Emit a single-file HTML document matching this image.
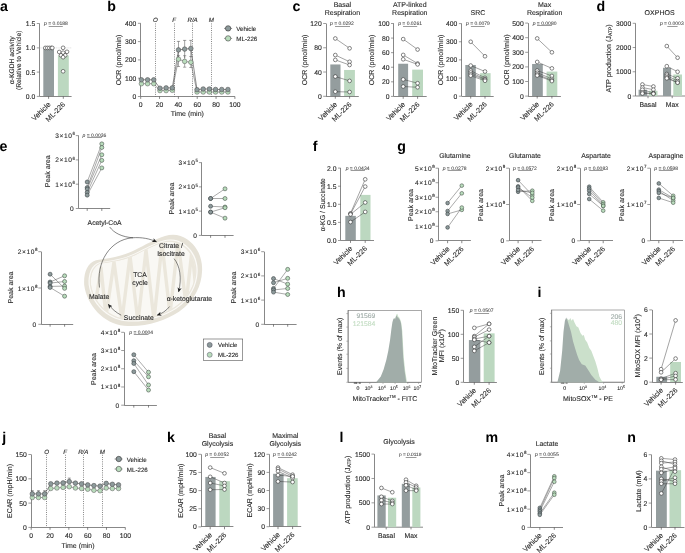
<!DOCTYPE html>
<html><head><meta charset="utf-8"><style>
html,body{margin:0;padding:0;background:#fff;}
svg{display:block;font-family:"Liberation Sans",sans-serif;will-change:transform;text-rendering:geometricPrecision;}
</style></head><body>
<svg width="685" height="553" viewBox="0 0 685 553">
<text x="0" y="11" font-size="14.2" text-anchor="start" fill="#000" font-weight="bold" >a</text>
<line x1="39.5" y1="23.5" x2="39.5" y2="96.4" stroke="#7a7a7a" stroke-width="0.9" />
<line x1="36.8" y1="23.5" x2="39.6" y2="23.5" stroke="#666" stroke-width="0.65" />
<text x="35.3" y="26.08" font-size="6.8" text-anchor="end" fill="#2a2a2a" stroke="#2a2a2a" stroke-width="0.12" >1.5</text>
<line x1="36.8" y1="47.9" x2="39.6" y2="47.9" stroke="#666" stroke-width="0.65" />
<text x="35.3" y="50.48" font-size="6.8" text-anchor="end" fill="#2a2a2a" stroke="#2a2a2a" stroke-width="0.12" >1.0</text>
<line x1="36.8" y1="72.1" x2="39.6" y2="72.1" stroke="#666" stroke-width="0.65" />
<text x="35.3" y="74.68" font-size="6.8" text-anchor="end" fill="#2a2a2a" stroke="#2a2a2a" stroke-width="0.12" >0.5</text>
<line x1="36.8" y1="96.4" x2="39.6" y2="96.4" stroke="#666" stroke-width="0.65" />
<text x="35.3" y="98.98" font-size="6.8" text-anchor="end" fill="#2a2a2a" stroke="#2a2a2a" stroke-width="0.12" >0.0</text>
<rect x="43.3" y="47.9" width="10.7" height="48.5" fill="#949d9e"/>
<rect x="57.9" y="55.5" width="10.9" height="40.9" fill="#bcd8c0"/>
<line x1="39.6" y1="47.9" x2="71.6" y2="47.9" stroke="#c8c8c8" stroke-width="0.6" stroke-dasharray="1,0.8"/>
<line x1="39.6" y1="96.5" x2="71.6" y2="96.5" stroke="#7a7a7a" stroke-width="0.9" />
<line x1="48.6" y1="96.4" x2="48.6" y2="98.8" stroke="#555" stroke-width="0.7" />
<line x1="63.3" y1="96.4" x2="63.3" y2="98.8" stroke="#555" stroke-width="0.7" />
<circle cx="45.3" cy="47.9" r="1.85" fill="#fff" stroke="#222" stroke-width="0.55"/>
<circle cx="47.3" cy="47.9" r="1.85" fill="#fff" stroke="#222" stroke-width="0.55"/>
<circle cx="49.3" cy="47.9" r="1.85" fill="#fff" stroke="#222" stroke-width="0.55"/>
<circle cx="51.3" cy="47.9" r="1.85" fill="#fff" stroke="#222" stroke-width="0.55"/>
<circle cx="52.3" cy="47.9" r="1.85" fill="#fff" stroke="#222" stroke-width="0.55"/>
<circle cx="63.1" cy="47.8" r="1.85" fill="#fff" stroke="#222" stroke-width="0.55"/>
<circle cx="59.2" cy="52" r="1.85" fill="#fff" stroke="#222" stroke-width="0.55"/>
<circle cx="67" cy="51.8" r="1.85" fill="#fff" stroke="#222" stroke-width="0.55"/>
<circle cx="63.1" cy="52.7" r="1.85" fill="#fff" stroke="#222" stroke-width="0.55"/>
<circle cx="61" cy="55.3" r="1.85" fill="#fff" stroke="#222" stroke-width="0.55"/>
<circle cx="65.2" cy="55.3" r="1.85" fill="#fff" stroke="#222" stroke-width="0.55"/>
<circle cx="63.1" cy="57.2" r="1.85" fill="#fff" stroke="#222" stroke-width="0.55"/>
<circle cx="63.1" cy="71.3" r="1.85" fill="#fff" stroke="#222" stroke-width="0.55"/>
<text x="44" y="25.15" font-size="5.0" fill="#3a3a3a" stroke="#3a3a3a" stroke-width="0.05"><tspan font-style="italic">p</tspan> = 0.0188</text>
<line x1="48.7" y1="26.5" x2="62.8" y2="26.5" stroke="#555" stroke-width="0.6" />
<text x="14" y="60.2" font-size="6.7" text-anchor="middle" fill="#2a2a2a" stroke="#2a2a2a" stroke-width="0.12" transform="rotate(-90 14 60.2)" >α-KGDH activity</text>
<text x="21.5" y="60.2" font-size="6.7" text-anchor="middle" fill="#2a2a2a" stroke="#2a2a2a" stroke-width="0.12" transform="rotate(-90 21.5 60.2)" >(Relative to Vehicle)</text>
<text x="51" y="104.9" font-size="7.2" text-anchor="end" fill="#2a2a2a" stroke="#2a2a2a" stroke-width="0.12" transform="rotate(-45 51 104.9)" >Vehicle</text>
<text x="65.7" y="104.9" font-size="7.2" text-anchor="end" fill="#2a2a2a" stroke="#2a2a2a" stroke-width="0.12" transform="rotate(-45 65.7 104.9)" >ML-226</text>
<text x="107.2" y="11" font-size="14.2" text-anchor="start" fill="#000" font-weight="bold" >b</text>
<line x1="140.5" y1="23.3" x2="140.5" y2="96.5" stroke="#7a7a7a" stroke-width="0.9" />
<line x1="137.9" y1="96.5" x2="140.7" y2="96.5" stroke="#666" stroke-width="0.65" />
<text x="136.4" y="99.08" font-size="6.8" text-anchor="end" fill="#2a2a2a" stroke="#2a2a2a" stroke-width="0.12" >0</text>
<line x1="137.9" y1="78.2" x2="140.7" y2="78.2" stroke="#666" stroke-width="0.65" />
<text x="136.4" y="80.78" font-size="6.8" text-anchor="end" fill="#2a2a2a" stroke="#2a2a2a" stroke-width="0.12" >100</text>
<line x1="137.9" y1="59.9" x2="140.7" y2="59.9" stroke="#666" stroke-width="0.65" />
<text x="136.4" y="62.48" font-size="6.8" text-anchor="end" fill="#2a2a2a" stroke="#2a2a2a" stroke-width="0.12" >200</text>
<line x1="137.9" y1="41.6" x2="140.7" y2="41.6" stroke="#666" stroke-width="0.65" />
<text x="136.4" y="44.18" font-size="6.8" text-anchor="end" fill="#2a2a2a" stroke="#2a2a2a" stroke-width="0.12" >300</text>
<line x1="137.9" y1="23.3" x2="140.7" y2="23.3" stroke="#666" stroke-width="0.65" />
<text x="136.4" y="25.88" font-size="6.8" text-anchor="end" fill="#2a2a2a" stroke="#2a2a2a" stroke-width="0.12" >400</text>
<line x1="140.7" y1="96.5" x2="234.9" y2="96.5" stroke="#7a7a7a" stroke-width="0.9" />
<line x1="140.7" y1="96.5" x2="140.7" y2="98.9" stroke="#555" stroke-width="0.7" />
<line x1="159.54" y1="96.5" x2="159.54" y2="98.9" stroke="#555" stroke-width="0.7" />
<line x1="178.38" y1="96.5" x2="178.38" y2="98.9" stroke="#555" stroke-width="0.7" />
<line x1="197.22" y1="96.5" x2="197.22" y2="98.9" stroke="#555" stroke-width="0.7" />
<line x1="216.06" y1="96.5" x2="216.06" y2="98.9" stroke="#555" stroke-width="0.7" />
<line x1="234.9" y1="96.5" x2="234.9" y2="98.9" stroke="#555" stroke-width="0.7" />
<text x="140.7" y="106.6" font-size="6.8" text-anchor="middle" fill="#2a2a2a" stroke="#2a2a2a" stroke-width="0.12" >0</text>
<text x="159.54" y="106.6" font-size="6.8" text-anchor="middle" fill="#2a2a2a" stroke="#2a2a2a" stroke-width="0.12" >20</text>
<text x="178.38" y="106.6" font-size="6.8" text-anchor="middle" fill="#2a2a2a" stroke="#2a2a2a" stroke-width="0.12" >40</text>
<text x="197.22" y="106.6" font-size="6.8" text-anchor="middle" fill="#2a2a2a" stroke="#2a2a2a" stroke-width="0.12" >60</text>
<text x="216.06" y="106.6" font-size="6.8" text-anchor="middle" fill="#2a2a2a" stroke="#2a2a2a" stroke-width="0.12" >80</text>
<text x="234.9" y="106.6" font-size="6.8" text-anchor="middle" fill="#2a2a2a" stroke="#2a2a2a" stroke-width="0.12" >100</text>
<text x="187.3" y="116.4" font-size="7.0" text-anchor="middle" fill="#2a2a2a" stroke="#2a2a2a" stroke-width="0.12" >Time (min)</text>
<text x="121.2" y="60" font-size="7.0" text-anchor="middle" fill="#2a2a2a" stroke="#2a2a2a" stroke-width="0.12" transform="rotate(-90 121.2 60)" >OCR (pmol/min)</text>
<line x1="155.5" y1="23.5" x2="155.5" y2="96.5" stroke="#444" stroke-width="0.7" stroke-dasharray="0.9,1.3"/>
<text x="155.3" y="22.2" font-size="6.2" text-anchor="middle" fill="#2a2a2a" stroke="#2a2a2a" stroke-width="0.12" font-style="italic" >O</text>
<line x1="174.5" y1="23.5" x2="174.5" y2="96.5" stroke="#444" stroke-width="0.7" stroke-dasharray="0.9,1.3"/>
<text x="174.1" y="22.2" font-size="6.2" text-anchor="middle" fill="#2a2a2a" stroke="#2a2a2a" stroke-width="0.12" font-style="italic" >F</text>
<line x1="192.5" y1="23.5" x2="192.5" y2="96.5" stroke="#444" stroke-width="0.7" stroke-dasharray="0.9,1.3"/>
<text x="192.6" y="22.2" font-size="6.2" text-anchor="middle" fill="#2a2a2a" stroke="#2a2a2a" stroke-width="0.12" font-style="italic" >R/A</text>
<line x1="211.5" y1="23.5" x2="211.5" y2="96.5" stroke="#444" stroke-width="0.7" stroke-dasharray="0.9,1.3"/>
<text x="211.3" y="22.2" font-size="6.2" text-anchor="middle" fill="#2a2a2a" stroke="#2a2a2a" stroke-width="0.12" font-style="italic" >M</text>
<line x1="178.48" y1="41.4" x2="178.48" y2="58.5" stroke="#444" stroke-width="0.5" />
<line x1="176.88" y1="41.4" x2="180.08" y2="41.4" stroke="#444" stroke-width="0.5" />
<line x1="184.66" y1="40.4" x2="184.66" y2="58" stroke="#444" stroke-width="0.5" />
<line x1="183.06" y1="40.4" x2="186.26" y2="40.4" stroke="#444" stroke-width="0.5" />
<line x1="190.84" y1="40.4" x2="190.84" y2="57.5" stroke="#444" stroke-width="0.5" />
<line x1="189.24" y1="40.4" x2="192.44" y2="40.4" stroke="#444" stroke-width="0.5" />
<line x1="178.48" y1="55.7" x2="178.48" y2="66.5" stroke="#555" stroke-width="0.5" />
<line x1="176.88" y1="66.5" x2="180.08" y2="66.5" stroke="#555" stroke-width="0.5" />
<line x1="176.88" y1="55.7" x2="180.08" y2="55.7" stroke="#555" stroke-width="0.5" />
<line x1="184.66" y1="55.7" x2="184.66" y2="67.2" stroke="#555" stroke-width="0.5" />
<line x1="183.06" y1="67.2" x2="186.26" y2="67.2" stroke="#555" stroke-width="0.5" />
<line x1="183.06" y1="55.7" x2="186.26" y2="55.7" stroke="#555" stroke-width="0.5" />
<line x1="190.84" y1="56.5" x2="190.84" y2="67.5" stroke="#555" stroke-width="0.5" />
<line x1="189.24" y1="67.5" x2="192.44" y2="67.5" stroke="#555" stroke-width="0.5" />
<line x1="189.24" y1="56.5" x2="192.44" y2="56.5" stroke="#555" stroke-width="0.5" />
<polyline points="141.4,83.7 147.58,83.7 153.76,83.7 159.94,90.6 166.12,90.6 172.3,90.3 178.48,59.2 184.66,61.4 190.84,62.3 197.02,92 203.2,92 209.38,92 215.56,92 221.74,92 227.92,92" fill="none" stroke="#666" stroke-width="0.6"/>
<polyline points="141.4,79.8 147.58,79.8 153.76,79.8 159.94,88.2 166.12,87.9 172.3,87.9 178.48,49.9 184.66,49.1 190.84,48.5 197.02,89.7 203.2,89 209.38,89 215.56,89.5 221.74,89.5 227.92,89.5" fill="none" stroke="#444" stroke-width="0.6"/>
<circle cx="141.4" cy="83.7" r="2.3" fill="#b9dcbc" stroke="#555" stroke-width="0.5"/>
<circle cx="147.58" cy="83.7" r="2.3" fill="#b9dcbc" stroke="#555" stroke-width="0.5"/>
<circle cx="153.76" cy="83.7" r="2.3" fill="#b9dcbc" stroke="#555" stroke-width="0.5"/>
<circle cx="159.94" cy="90.6" r="2.3" fill="#b9dcbc" stroke="#555" stroke-width="0.5"/>
<circle cx="166.12" cy="90.6" r="2.3" fill="#b9dcbc" stroke="#555" stroke-width="0.5"/>
<circle cx="172.3" cy="90.3" r="2.3" fill="#b9dcbc" stroke="#555" stroke-width="0.5"/>
<circle cx="178.48" cy="59.2" r="2.3" fill="#b9dcbc" stroke="#555" stroke-width="0.5"/>
<circle cx="184.66" cy="61.4" r="2.3" fill="#b9dcbc" stroke="#555" stroke-width="0.5"/>
<circle cx="190.84" cy="62.3" r="2.3" fill="#b9dcbc" stroke="#555" stroke-width="0.5"/>
<circle cx="197.02" cy="92" r="2.3" fill="#b9dcbc" stroke="#555" stroke-width="0.5"/>
<circle cx="203.2" cy="92" r="2.3" fill="#b9dcbc" stroke="#555" stroke-width="0.5"/>
<circle cx="209.38" cy="92" r="2.3" fill="#b9dcbc" stroke="#555" stroke-width="0.5"/>
<circle cx="215.56" cy="92" r="2.3" fill="#b9dcbc" stroke="#555" stroke-width="0.5"/>
<circle cx="221.74" cy="92" r="2.3" fill="#b9dcbc" stroke="#555" stroke-width="0.5"/>
<circle cx="227.92" cy="92" r="2.3" fill="#b9dcbc" stroke="#555" stroke-width="0.5"/>
<circle cx="141.4" cy="79.8" r="2.3" fill="#8d9a9b" stroke="#444" stroke-width="0.5"/>
<circle cx="147.58" cy="79.8" r="2.3" fill="#8d9a9b" stroke="#444" stroke-width="0.5"/>
<circle cx="153.76" cy="79.8" r="2.3" fill="#8d9a9b" stroke="#444" stroke-width="0.5"/>
<circle cx="159.94" cy="88.2" r="2.3" fill="#8d9a9b" stroke="#444" stroke-width="0.5"/>
<circle cx="166.12" cy="87.9" r="2.3" fill="#8d9a9b" stroke="#444" stroke-width="0.5"/>
<circle cx="172.3" cy="87.9" r="2.3" fill="#8d9a9b" stroke="#444" stroke-width="0.5"/>
<circle cx="178.48" cy="49.9" r="2.3" fill="#8d9a9b" stroke="#444" stroke-width="0.5"/>
<circle cx="184.66" cy="49.1" r="2.3" fill="#8d9a9b" stroke="#444" stroke-width="0.5"/>
<circle cx="190.84" cy="48.5" r="2.3" fill="#8d9a9b" stroke="#444" stroke-width="0.5"/>
<circle cx="197.02" cy="89.7" r="2.3" fill="#8d9a9b" stroke="#444" stroke-width="0.5"/>
<circle cx="203.2" cy="89" r="2.3" fill="#8d9a9b" stroke="#444" stroke-width="0.5"/>
<circle cx="209.38" cy="89" r="2.3" fill="#8d9a9b" stroke="#444" stroke-width="0.5"/>
<circle cx="215.56" cy="89.5" r="2.3" fill="#8d9a9b" stroke="#444" stroke-width="0.5"/>
<circle cx="221.74" cy="89.5" r="2.3" fill="#8d9a9b" stroke="#444" stroke-width="0.5"/>
<circle cx="227.92" cy="89.5" r="2.3" fill="#8d9a9b" stroke="#444" stroke-width="0.5"/>
<line x1="224.1" y1="28.4" x2="232.1" y2="28.4" stroke="#444" stroke-width="0.6" />
<line x1="224.1" y1="38.4" x2="232.1" y2="38.4" stroke="#555" stroke-width="0.6" />
<circle cx="228.1" cy="28.4" r="2.7" fill="#8d9a9b" stroke="#333" stroke-width="0.6"/>
<circle cx="228.1" cy="38.4" r="2.7" fill="#b9dcbc" stroke="#444" stroke-width="0.6"/>
<text x="236.3" y="30.9" font-size="6.2" text-anchor="start" fill="#2a2a2a" stroke="#2a2a2a" stroke-width="0.12" >Vehicle</text>
<text x="236.3" y="40.9" font-size="6.2" text-anchor="start" fill="#2a2a2a" stroke="#2a2a2a" stroke-width="0.12" >ML-226</text>
<text x="292.4" y="11" font-size="14.2" text-anchor="start" fill="#000" font-weight="bold" >c</text>
<line x1="326.5" y1="23.5" x2="326.5" y2="96.3" stroke="#7a7a7a" stroke-width="0.9" />
<line x1="323.2" y1="96.3" x2="326" y2="96.3" stroke="#666" stroke-width="0.65" />
<text x="321.7" y="98.88" font-size="6.8" text-anchor="end" fill="#2a2a2a" stroke="#2a2a2a" stroke-width="0.12" >0</text>
<line x1="323.2" y1="72.03" x2="326" y2="72.03" stroke="#666" stroke-width="0.65" />
<text x="321.7" y="74.62" font-size="6.8" text-anchor="end" fill="#2a2a2a" stroke="#2a2a2a" stroke-width="0.12" >40</text>
<line x1="323.2" y1="47.77" x2="326" y2="47.77" stroke="#666" stroke-width="0.65" />
<text x="321.7" y="50.35" font-size="6.8" text-anchor="end" fill="#2a2a2a" stroke="#2a2a2a" stroke-width="0.12" >80</text>
<line x1="323.2" y1="23.5" x2="326" y2="23.5" stroke="#666" stroke-width="0.65" />
<text x="321.7" y="26.08" font-size="6.8" text-anchor="end" fill="#2a2a2a" stroke="#2a2a2a" stroke-width="0.12" >120</text>
<rect x="330.3" y="64.45" width="10.2" height="31.85" fill="#949d9e"/>
<rect x="344.1" y="69.97" width="10.8" height="26.33" fill="#bcd8c0"/>
<line x1="326" y1="96.5" x2="358.8" y2="96.5" stroke="#7a7a7a" stroke-width="0.9" />
<line x1="335.3" y1="96.3" x2="335.3" y2="98.7" stroke="#555" stroke-width="0.7" />
<line x1="349.6" y1="96.3" x2="349.6" y2="98.7" stroke="#555" stroke-width="0.7" />
<line x1="335.3" y1="38.48" x2="349.6" y2="48.31" stroke="#333" stroke-width="0.45" />
<line x1="335.3" y1="55.05" x2="349.6" y2="61.78" stroke="#333" stroke-width="0.45" />
<line x1="335.3" y1="59.9" x2="349.6" y2="65" stroke="#333" stroke-width="0.45" />
<line x1="335.3" y1="76.52" x2="349.6" y2="80.89" stroke="#333" stroke-width="0.45" />
<line x1="335.3" y1="91.69" x2="349.6" y2="91.99" stroke="#333" stroke-width="0.45" />
<circle cx="335.3" cy="38.48" r="1.85" fill="#fff" stroke="#222" stroke-width="0.55"/>
<circle cx="335.3" cy="55.05" r="1.85" fill="#fff" stroke="#222" stroke-width="0.55"/>
<circle cx="335.3" cy="59.9" r="1.85" fill="#fff" stroke="#222" stroke-width="0.55"/>
<circle cx="335.3" cy="76.52" r="1.85" fill="#fff" stroke="#222" stroke-width="0.55"/>
<circle cx="335.3" cy="91.69" r="1.85" fill="#fff" stroke="#222" stroke-width="0.55"/>
<circle cx="349.6" cy="48.31" r="1.85" fill="#fff" stroke="#222" stroke-width="0.55"/>
<circle cx="349.6" cy="61.78" r="1.85" fill="#fff" stroke="#222" stroke-width="0.55"/>
<circle cx="349.6" cy="65" r="1.85" fill="#fff" stroke="#222" stroke-width="0.55"/>
<circle cx="349.6" cy="80.89" r="1.85" fill="#fff" stroke="#222" stroke-width="0.55"/>
<circle cx="349.6" cy="91.99" r="1.85" fill="#fff" stroke="#222" stroke-width="0.55"/>
<text x="342.4" y="6.7" font-size="7.0" text-anchor="middle" fill="#2a2a2a" stroke="#2a2a2a" stroke-width="0.12" >Basal</text>
<text x="342.4" y="14.7" font-size="7.0" text-anchor="middle" fill="#2a2a2a" stroke="#2a2a2a" stroke-width="0.12" >Respiration</text>
<text x="307" y="59.9" font-size="7.0" text-anchor="middle" fill="#2a2a2a" stroke="#2a2a2a" stroke-width="0.12" transform="rotate(-90 307 59.9)" >OCR (pmol/min)</text>
<text x="330" y="25.25" font-size="5.0" fill="#3a3a3a" stroke="#3a3a3a" stroke-width="0.05"><tspan font-style="italic">p</tspan> = 0.0292</text>
<line x1="335" y1="26.5" x2="350" y2="26.5" stroke="#555" stroke-width="0.6" />
<text x="337.7" y="104.8" font-size="7.2" text-anchor="end" fill="#2a2a2a" stroke="#2a2a2a" stroke-width="0.12" transform="rotate(-45 337.7 104.8)" >Vehicle</text>
<text x="352" y="104.8" font-size="7.2" text-anchor="end" fill="#2a2a2a" stroke="#2a2a2a" stroke-width="0.12" transform="rotate(-45 352 104.8)" >ML-226</text>
<line x1="393.5" y1="23.5" x2="393.5" y2="96.4" stroke="#7a7a7a" stroke-width="0.9" />
<line x1="391" y1="96.4" x2="393.8" y2="96.4" stroke="#666" stroke-width="0.65" />
<text x="389.5" y="98.98" font-size="6.8" text-anchor="end" fill="#2a2a2a" stroke="#2a2a2a" stroke-width="0.12" >0</text>
<line x1="391" y1="81.82" x2="393.8" y2="81.82" stroke="#666" stroke-width="0.65" />
<text x="389.5" y="84.4" font-size="6.8" text-anchor="end" fill="#2a2a2a" stroke="#2a2a2a" stroke-width="0.12" >20</text>
<line x1="391" y1="67.24" x2="393.8" y2="67.24" stroke="#666" stroke-width="0.65" />
<text x="389.5" y="69.82" font-size="6.8" text-anchor="end" fill="#2a2a2a" stroke="#2a2a2a" stroke-width="0.12" >40</text>
<line x1="391" y1="52.66" x2="393.8" y2="52.66" stroke="#666" stroke-width="0.65" />
<text x="389.5" y="55.24" font-size="6.8" text-anchor="end" fill="#2a2a2a" stroke="#2a2a2a" stroke-width="0.12" >60</text>
<line x1="391" y1="38.08" x2="393.8" y2="38.08" stroke="#666" stroke-width="0.65" />
<text x="389.5" y="40.66" font-size="6.8" text-anchor="end" fill="#2a2a2a" stroke="#2a2a2a" stroke-width="0.12" >80</text>
<line x1="391" y1="23.5" x2="393.8" y2="23.5" stroke="#666" stroke-width="0.65" />
<text x="389.5" y="26.08" font-size="6.8" text-anchor="end" fill="#2a2a2a" stroke="#2a2a2a" stroke-width="0.12" >100</text>
<rect x="398.2" y="63.74" width="9.9" height="32.66" fill="#949d9e"/>
<rect x="412.2" y="69.65" width="10.8" height="26.75" fill="#bcd8c0"/>
<line x1="393.8" y1="96.5" x2="426.7" y2="96.5" stroke="#7a7a7a" stroke-width="0.9" />
<line x1="403.2" y1="96.4" x2="403.2" y2="98.8" stroke="#555" stroke-width="0.7" />
<line x1="417.6" y1="96.4" x2="417.6" y2="98.8" stroke="#555" stroke-width="0.7" />
<line x1="403.2" y1="39.1" x2="417.6" y2="49.53" stroke="#333" stroke-width="0.45" />
<line x1="403.2" y1="54.92" x2="417.6" y2="63.52" stroke="#333" stroke-width="0.45" />
<line x1="403.2" y1="59.29" x2="417.6" y2="64.4" stroke="#333" stroke-width="0.45" />
<line x1="403.2" y1="79.41" x2="417.6" y2="83.21" stroke="#333" stroke-width="0.45" />
<line x1="403.2" y1="86.49" x2="417.6" y2="87.29" stroke="#333" stroke-width="0.45" />
<circle cx="403.2" cy="39.1" r="1.85" fill="#fff" stroke="#222" stroke-width="0.55"/>
<circle cx="403.2" cy="54.92" r="1.85" fill="#fff" stroke="#222" stroke-width="0.55"/>
<circle cx="403.2" cy="59.29" r="1.85" fill="#fff" stroke="#222" stroke-width="0.55"/>
<circle cx="403.2" cy="79.41" r="1.85" fill="#fff" stroke="#222" stroke-width="0.55"/>
<circle cx="403.2" cy="86.49" r="1.85" fill="#fff" stroke="#222" stroke-width="0.55"/>
<circle cx="417.6" cy="49.53" r="1.85" fill="#fff" stroke="#222" stroke-width="0.55"/>
<circle cx="417.6" cy="63.52" r="1.85" fill="#fff" stroke="#222" stroke-width="0.55"/>
<circle cx="417.6" cy="64.4" r="1.85" fill="#fff" stroke="#222" stroke-width="0.55"/>
<circle cx="417.6" cy="83.21" r="1.85" fill="#fff" stroke="#222" stroke-width="0.55"/>
<circle cx="417.6" cy="87.29" r="1.85" fill="#fff" stroke="#222" stroke-width="0.55"/>
<text x="409.8" y="6.7" font-size="7.0" text-anchor="middle" fill="#2a2a2a" stroke="#2a2a2a" stroke-width="0.12" >ATP-linked</text>
<text x="409.8" y="14.7" font-size="7.0" text-anchor="middle" fill="#2a2a2a" stroke="#2a2a2a" stroke-width="0.12" >Respiration</text>
<text x="374.5" y="59.95" font-size="7.0" text-anchor="middle" fill="#2a2a2a" stroke="#2a2a2a" stroke-width="0.12" transform="rotate(-90 374.5 59.95)" >OCR (pmol/min)</text>
<text x="398.2" y="25.25" font-size="5.0" fill="#3a3a3a" stroke="#3a3a3a" stroke-width="0.05"><tspan font-style="italic">p</tspan> = 0.0261</text>
<line x1="403" y1="26.5" x2="417.2" y2="26.5" stroke="#555" stroke-width="0.6" />
<text x="405.6" y="104.9" font-size="7.2" text-anchor="end" fill="#2a2a2a" stroke="#2a2a2a" stroke-width="0.12" transform="rotate(-45 405.6 104.9)" >Vehicle</text>
<text x="420" y="104.9" font-size="7.2" text-anchor="end" fill="#2a2a2a" stroke="#2a2a2a" stroke-width="0.12" transform="rotate(-45 420 104.9)" >ML-226</text>
<line x1="461.5" y1="23.6" x2="461.5" y2="96.2" stroke="#7a7a7a" stroke-width="0.9" />
<line x1="458.9" y1="96.2" x2="461.7" y2="96.2" stroke="#666" stroke-width="0.65" />
<text x="457.4" y="98.78" font-size="6.8" text-anchor="end" fill="#2a2a2a" stroke="#2a2a2a" stroke-width="0.12" >0</text>
<line x1="458.9" y1="78.05" x2="461.7" y2="78.05" stroke="#666" stroke-width="0.65" />
<text x="457.4" y="80.63" font-size="6.8" text-anchor="end" fill="#2a2a2a" stroke="#2a2a2a" stroke-width="0.12" >100</text>
<line x1="458.9" y1="59.9" x2="461.7" y2="59.9" stroke="#666" stroke-width="0.65" />
<text x="457.4" y="62.48" font-size="6.8" text-anchor="end" fill="#2a2a2a" stroke="#2a2a2a" stroke-width="0.12" >200</text>
<line x1="458.9" y1="41.75" x2="461.7" y2="41.75" stroke="#666" stroke-width="0.65" />
<text x="457.4" y="44.33" font-size="6.8" text-anchor="end" fill="#2a2a2a" stroke="#2a2a2a" stroke-width="0.12" >300</text>
<line x1="458.9" y1="23.6" x2="461.7" y2="23.6" stroke="#666" stroke-width="0.65" />
<text x="457.4" y="26.18" font-size="6.8" text-anchor="end" fill="#2a2a2a" stroke="#2a2a2a" stroke-width="0.12" >400</text>
<rect x="465.3" y="64.98" width="10.5" height="31.22" fill="#949d9e"/>
<rect x="480.1" y="73.15" width="10.5" height="23.05" fill="#bcd8c0"/>
<line x1="461.7" y1="96.5" x2="493.7" y2="96.5" stroke="#7a7a7a" stroke-width="0.9" />
<line x1="470.7" y1="96.2" x2="470.7" y2="98.6" stroke="#555" stroke-width="0.7" />
<line x1="485" y1="96.2" x2="485" y2="98.6" stroke="#555" stroke-width="0.7" />
<line x1="470.7" y1="41.75" x2="485" y2="56.27" stroke="#333" stroke-width="0.45" />
<line x1="470.7" y1="65.53" x2="485" y2="71.52" stroke="#333" stroke-width="0.45" />
<line x1="470.7" y1="70.61" x2="485" y2="77.87" stroke="#333" stroke-width="0.45" />
<line x1="470.7" y1="72.42" x2="485" y2="79.14" stroke="#333" stroke-width="0.45" />
<line x1="470.7" y1="74.24" x2="485" y2="79.68" stroke="#333" stroke-width="0.45" />
<line x1="470.7" y1="75.69" x2="485" y2="80.77" stroke="#333" stroke-width="0.45" />
<circle cx="470.7" cy="41.75" r="1.85" fill="#fff" stroke="#222" stroke-width="0.55"/>
<circle cx="470.7" cy="65.53" r="1.85" fill="#fff" stroke="#222" stroke-width="0.55"/>
<circle cx="470.7" cy="70.61" r="1.85" fill="#fff" stroke="#222" stroke-width="0.55"/>
<circle cx="470.7" cy="72.42" r="1.85" fill="#fff" stroke="#222" stroke-width="0.55"/>
<circle cx="470.7" cy="74.24" r="1.85" fill="#fff" stroke="#222" stroke-width="0.55"/>
<circle cx="470.7" cy="75.69" r="1.85" fill="#fff" stroke="#222" stroke-width="0.55"/>
<circle cx="485" cy="56.27" r="1.85" fill="#fff" stroke="#222" stroke-width="0.55"/>
<circle cx="485" cy="71.52" r="1.85" fill="#fff" stroke="#222" stroke-width="0.55"/>
<circle cx="485" cy="77.87" r="1.85" fill="#fff" stroke="#222" stroke-width="0.55"/>
<circle cx="485" cy="79.14" r="1.85" fill="#fff" stroke="#222" stroke-width="0.55"/>
<circle cx="485" cy="79.68" r="1.85" fill="#fff" stroke="#222" stroke-width="0.55"/>
<circle cx="485" cy="80.77" r="1.85" fill="#fff" stroke="#222" stroke-width="0.55"/>
<text x="478" y="14.7" font-size="7.0" text-anchor="middle" fill="#2a2a2a" stroke="#2a2a2a" stroke-width="0.12" >SRC</text>
<text x="443.5" y="59.9" font-size="7.0" text-anchor="middle" fill="#2a2a2a" stroke="#2a2a2a" stroke-width="0.12" transform="rotate(-90 443.5 59.9)" >OCR (pmol/min)</text>
<text x="466" y="25.35" font-size="5.0" fill="#3a3a3a" stroke="#3a3a3a" stroke-width="0.05"><tspan font-style="italic">p</tspan> = 0.0079</text>
<line x1="470.9" y1="26.5" x2="484.7" y2="26.5" stroke="#555" stroke-width="0.6" />
<text x="473.1" y="104.7" font-size="7.2" text-anchor="end" fill="#2a2a2a" stroke="#2a2a2a" stroke-width="0.12" transform="rotate(-45 473.1 104.7)" >Vehicle</text>
<text x="487.4" y="104.7" font-size="7.2" text-anchor="end" fill="#2a2a2a" stroke="#2a2a2a" stroke-width="0.12" transform="rotate(-45 487.4 104.7)" >ML-226</text>
<line x1="528.5" y1="23.1" x2="528.5" y2="96.1" stroke="#7a7a7a" stroke-width="0.9" />
<line x1="525.2" y1="96.1" x2="528" y2="96.1" stroke="#666" stroke-width="0.65" />
<text x="523.7" y="98.68" font-size="6.8" text-anchor="end" fill="#2a2a2a" stroke="#2a2a2a" stroke-width="0.12" >0</text>
<line x1="525.2" y1="81.5" x2="528" y2="81.5" stroke="#666" stroke-width="0.65" />
<text x="523.7" y="84.08" font-size="6.8" text-anchor="end" fill="#2a2a2a" stroke="#2a2a2a" stroke-width="0.12" >100</text>
<line x1="525.2" y1="66.9" x2="528" y2="66.9" stroke="#666" stroke-width="0.65" />
<text x="523.7" y="69.48" font-size="6.8" text-anchor="end" fill="#2a2a2a" stroke="#2a2a2a" stroke-width="0.12" >200</text>
<line x1="525.2" y1="52.3" x2="528" y2="52.3" stroke="#666" stroke-width="0.65" />
<text x="523.7" y="54.88" font-size="6.8" text-anchor="end" fill="#2a2a2a" stroke="#2a2a2a" stroke-width="0.12" >300</text>
<line x1="525.2" y1="37.7" x2="528" y2="37.7" stroke="#666" stroke-width="0.65" />
<text x="523.7" y="40.28" font-size="6.8" text-anchor="end" fill="#2a2a2a" stroke="#2a2a2a" stroke-width="0.12" >400</text>
<line x1="525.2" y1="23.1" x2="528" y2="23.1" stroke="#666" stroke-width="0.65" />
<text x="523.7" y="25.68" font-size="6.8" text-anchor="end" fill="#2a2a2a" stroke="#2a2a2a" stroke-width="0.12" >500</text>
<rect x="532.1" y="63.98" width="10.7" height="32.12" fill="#949d9e"/>
<rect x="546.6" y="71.57" width="10.7" height="24.53" fill="#bcd8c0"/>
<line x1="528" y1="96.5" x2="560.9" y2="96.5" stroke="#7a7a7a" stroke-width="0.9" />
<line x1="537.2" y1="96.1" x2="537.2" y2="98.5" stroke="#555" stroke-width="0.7" />
<line x1="551.9" y1="96.1" x2="551.9" y2="98.5" stroke="#555" stroke-width="0.7" />
<line x1="537.2" y1="38.43" x2="551.9" y2="52.3" stroke="#333" stroke-width="0.45" />
<line x1="537.2" y1="61.94" x2="551.9" y2="68.36" stroke="#333" stroke-width="0.45" />
<line x1="537.2" y1="70.55" x2="551.9" y2="75.95" stroke="#333" stroke-width="0.45" />
<line x1="537.2" y1="72.74" x2="551.9" y2="78.87" stroke="#333" stroke-width="0.45" />
<line x1="537.2" y1="74.35" x2="551.9" y2="80.33" stroke="#333" stroke-width="0.45" />
<line x1="537.2" y1="75.51" x2="551.9" y2="81.06" stroke="#333" stroke-width="0.45" />
<circle cx="537.2" cy="38.43" r="1.85" fill="#fff" stroke="#222" stroke-width="0.55"/>
<circle cx="537.2" cy="61.94" r="1.85" fill="#fff" stroke="#222" stroke-width="0.55"/>
<circle cx="537.2" cy="70.55" r="1.85" fill="#fff" stroke="#222" stroke-width="0.55"/>
<circle cx="537.2" cy="72.74" r="1.85" fill="#fff" stroke="#222" stroke-width="0.55"/>
<circle cx="537.2" cy="74.35" r="1.85" fill="#fff" stroke="#222" stroke-width="0.55"/>
<circle cx="537.2" cy="75.51" r="1.85" fill="#fff" stroke="#222" stroke-width="0.55"/>
<circle cx="551.9" cy="52.3" r="1.85" fill="#fff" stroke="#222" stroke-width="0.55"/>
<circle cx="551.9" cy="68.36" r="1.85" fill="#fff" stroke="#222" stroke-width="0.55"/>
<circle cx="551.9" cy="75.95" r="1.85" fill="#fff" stroke="#222" stroke-width="0.55"/>
<circle cx="551.9" cy="78.87" r="1.85" fill="#fff" stroke="#222" stroke-width="0.55"/>
<circle cx="551.9" cy="80.33" r="1.85" fill="#fff" stroke="#222" stroke-width="0.55"/>
<circle cx="551.9" cy="81.06" r="1.85" fill="#fff" stroke="#222" stroke-width="0.55"/>
<text x="544.6" y="6.7" font-size="7.0" text-anchor="middle" fill="#2a2a2a" stroke="#2a2a2a" stroke-width="0.12" >Max</text>
<text x="544.6" y="14.7" font-size="7.0" text-anchor="middle" fill="#2a2a2a" stroke="#2a2a2a" stroke-width="0.12" >Respiration</text>
<text x="509" y="59.6" font-size="7.0" text-anchor="middle" fill="#2a2a2a" stroke="#2a2a2a" stroke-width="0.12" transform="rotate(-90 509 59.6)" >OCR (pmol/min)</text>
<text x="532.7" y="24.85" font-size="5.0" fill="#3a3a3a" stroke="#3a3a3a" stroke-width="0.05"><tspan font-style="italic">p</tspan> = 0.0080</text>
<line x1="537" y1="25.5" x2="551.9" y2="25.5" stroke="#555" stroke-width="0.6" />
<text x="539.6" y="104.6" font-size="7.2" text-anchor="end" fill="#2a2a2a" stroke="#2a2a2a" stroke-width="0.12" transform="rotate(-45 539.6 104.6)" >Vehicle</text>
<text x="554.3" y="104.6" font-size="7.2" text-anchor="end" fill="#2a2a2a" stroke="#2a2a2a" stroke-width="0.12" transform="rotate(-45 554.3 104.6)" >ML-226</text>
<text x="596.5" y="11" font-size="14.2" text-anchor="start" fill="#000" font-weight="bold" >d</text>
<line x1="635.5" y1="23.3" x2="635.5" y2="96" stroke="#7a7a7a" stroke-width="0.9" />
<line x1="632.7" y1="96" x2="635.5" y2="96" stroke="#666" stroke-width="0.65" />
<text x="631.2" y="98.58" font-size="6.8" text-anchor="end" fill="#2a2a2a" stroke="#2a2a2a" stroke-width="0.12" >0</text>
<line x1="632.7" y1="71.77" x2="635.5" y2="71.77" stroke="#666" stroke-width="0.65" />
<text x="631.2" y="74.35" font-size="6.8" text-anchor="end" fill="#2a2a2a" stroke="#2a2a2a" stroke-width="0.12" >1000</text>
<line x1="632.7" y1="47.53" x2="635.5" y2="47.53" stroke="#666" stroke-width="0.65" />
<text x="631.2" y="50.12" font-size="6.8" text-anchor="end" fill="#2a2a2a" stroke="#2a2a2a" stroke-width="0.12" >2000</text>
<line x1="632.7" y1="23.3" x2="635.5" y2="23.3" stroke="#666" stroke-width="0.65" />
<text x="631.2" y="25.88" font-size="6.8" text-anchor="end" fill="#2a2a2a" stroke="#2a2a2a" stroke-width="0.12" >3000</text>
<line x1="635.5" y1="96" x2="685" y2="96" stroke="#7a7a7a" stroke-width="0.9" />
<line x1="648" y1="96" x2="648" y2="98.2" stroke="#7a7a7a" stroke-width="0.9" />
<line x1="672.2" y1="96" x2="672.2" y2="98.2" stroke="#7a7a7a" stroke-width="0.9" />
<rect x="638.6" y="89.7" width="8.6" height="6.3" fill="#949d9e"/>
<rect x="648.9" y="90.79" width="8.6" height="5.21" fill="#bcd8c0"/>
<rect x="663" y="67.79" width="8.1" height="28.21" fill="#949d9e"/>
<rect x="673.3" y="74.48" width="8.7" height="21.52" fill="#bcd8c0"/>
<line x1="642.4" y1="84.49" x2="653.4" y2="86.5" stroke="#333" stroke-width="0.45" />
<line x1="642.4" y1="87.52" x2="653.4" y2="89.7" stroke="#333" stroke-width="0.45" />
<line x1="642.4" y1="89.7" x2="653.4" y2="93" stroke="#333" stroke-width="0.45" />
<line x1="642.4" y1="92.36" x2="653.4" y2="93.79" stroke="#333" stroke-width="0.45" />
<line x1="642.4" y1="93.5" x2="653.4" y2="93.79" stroke="#333" stroke-width="0.45" />
<circle cx="642.4" cy="84.49" r="1.85" fill="#fff" stroke="#222" stroke-width="0.55"/>
<circle cx="642.4" cy="87.52" r="1.85" fill="#fff" stroke="#222" stroke-width="0.55"/>
<circle cx="642.4" cy="89.7" r="1.85" fill="#fff" stroke="#222" stroke-width="0.55"/>
<circle cx="642.4" cy="92.36" r="1.85" fill="#fff" stroke="#222" stroke-width="0.55"/>
<circle cx="642.4" cy="93.5" r="1.85" fill="#fff" stroke="#222" stroke-width="0.55"/>
<circle cx="653.4" cy="86.5" r="1.85" fill="#fff" stroke="#222" stroke-width="0.55"/>
<circle cx="653.4" cy="89.7" r="1.85" fill="#fff" stroke="#222" stroke-width="0.55"/>
<circle cx="653.4" cy="93" r="1.85" fill="#fff" stroke="#222" stroke-width="0.55"/>
<circle cx="653.4" cy="93.79" r="1.85" fill="#fff" stroke="#222" stroke-width="0.55"/>
<circle cx="653.4" cy="93.79" r="1.85" fill="#fff" stroke="#222" stroke-width="0.55"/>
<line x1="666.8" y1="46.08" x2="677.6" y2="57.71" stroke="#333" stroke-width="0.45" />
<line x1="666.8" y1="66.19" x2="677.6" y2="71.77" stroke="#333" stroke-width="0.45" />
<line x1="666.8" y1="74" x2="677.6" y2="78.31" stroke="#333" stroke-width="0.45" />
<line x1="666.8" y1="75.6" x2="677.6" y2="81" stroke="#333" stroke-width="0.45" />
<line x1="666.8" y1="77.19" x2="677.6" y2="82.7" stroke="#333" stroke-width="0.45" />
<line x1="666.8" y1="78.31" x2="677.6" y2="82.7" stroke="#333" stroke-width="0.45" />
<circle cx="666.8" cy="46.08" r="1.85" fill="#fff" stroke="#222" stroke-width="0.55"/>
<circle cx="666.8" cy="66.19" r="1.85" fill="#fff" stroke="#222" stroke-width="0.55"/>
<circle cx="666.8" cy="74" r="1.85" fill="#fff" stroke="#222" stroke-width="0.55"/>
<circle cx="666.8" cy="75.6" r="1.85" fill="#fff" stroke="#222" stroke-width="0.55"/>
<circle cx="666.8" cy="77.19" r="1.85" fill="#fff" stroke="#222" stroke-width="0.55"/>
<circle cx="666.8" cy="78.31" r="1.85" fill="#fff" stroke="#222" stroke-width="0.55"/>
<circle cx="677.6" cy="57.71" r="1.85" fill="#fff" stroke="#222" stroke-width="0.55"/>
<circle cx="677.6" cy="71.77" r="1.85" fill="#fff" stroke="#222" stroke-width="0.55"/>
<circle cx="677.6" cy="78.31" r="1.85" fill="#fff" stroke="#222" stroke-width="0.55"/>
<circle cx="677.6" cy="81" r="1.85" fill="#fff" stroke="#222" stroke-width="0.55"/>
<circle cx="677.6" cy="82.7" r="1.85" fill="#fff" stroke="#222" stroke-width="0.55"/>
<circle cx="677.6" cy="82.7" r="1.85" fill="#fff" stroke="#222" stroke-width="0.55"/>
<text x="648" y="106.6" font-size="6.8" text-anchor="middle" fill="#2a2a2a" stroke="#2a2a2a" stroke-width="0.12" >Basal</text>
<text x="672.2" y="106.6" font-size="6.8" text-anchor="middle" fill="#2a2a2a" stroke="#2a2a2a" stroke-width="0.12" >Max</text>
<text x="659.6" y="14.5" font-size="7.0" text-anchor="middle" fill="#2a2a2a" stroke="#2a2a2a" stroke-width="0.12" >OXPHOS</text>
<text x="659.9" y="25.15" font-size="5.0" fill="#3a3a3a" stroke="#3a3a3a" stroke-width="0.05"><tspan font-style="italic">p</tspan> = 0.0003</text>
<line x1="667.3" y1="26.5" x2="677.6" y2="26.5" stroke="#555" stroke-width="0.6" />
<text x="610.8" y="58.4" font-size="7.15" text-anchor="middle" fill="#2a2a2a" stroke="#2a2a2a" stroke-width="0.12" transform="rotate(-90 610.8 58.4)">ATP production (J<tspan font-size="5.0" dy="1.3">ATP</tspan><tspan dy="-1.3">)</tspan></text>
<text x="-0.6" y="151.3" font-size="14.2" text-anchor="start" fill="#000" font-weight="bold" >e</text>
<line x1="78.5" y1="135.6" x2="78.5" y2="208.5" stroke="#7a7a7a" stroke-width="0.9" />
<line x1="75.8" y1="208.5" x2="78.7" y2="208.5" stroke="#666" stroke-width="0.65" />
<text x="73.7" y="211.01" font-size="6.6" text-anchor="end" fill="#2a2a2a" stroke="#2a2a2a" stroke-width="0.12" >0</text>
<line x1="75.8" y1="184.2" x2="78.7" y2="184.2" stroke="#666" stroke-width="0.65" />
<text x="74.9" y="186.71" font-size="6.6" text-anchor="end" fill="#2a2a2a" stroke="#2a2a2a" stroke-width="0.12" ><tspan letter-spacing="0.55">1×10</tspan><tspan font-size="4.5" dy="-2.8">6</tspan></text>
<line x1="75.8" y1="159.9" x2="78.7" y2="159.9" stroke="#666" stroke-width="0.65" />
<text x="74.9" y="162.41" font-size="6.6" text-anchor="end" fill="#2a2a2a" stroke="#2a2a2a" stroke-width="0.12" ><tspan letter-spacing="0.55">2×10</tspan><tspan font-size="4.5" dy="-2.8">6</tspan></text>
<line x1="75.8" y1="135.6" x2="78.7" y2="135.6" stroke="#666" stroke-width="0.65" />
<text x="74.9" y="138.11" font-size="6.6" text-anchor="end" fill="#2a2a2a" stroke="#2a2a2a" stroke-width="0.12" ><tspan letter-spacing="0.55">3×10</tspan><tspan font-size="4.5" dy="-2.8">6</tspan></text>
<line x1="78.7" y1="208.5" x2="110.2" y2="208.5" stroke="#7a7a7a" stroke-width="0.9" />
<line x1="87.2" y1="208.5" x2="87.2" y2="210.9" stroke="#555" stroke-width="0.7" />
<line x1="101.8" y1="208.5" x2="101.8" y2="210.9" stroke="#555" stroke-width="0.7" />
<line x1="87.2" y1="182.01" x2="101.8" y2="143.86" stroke="#444" stroke-width="0.45" />
<line x1="87.2" y1="187.6" x2="101.8" y2="147.51" stroke="#444" stroke-width="0.45" />
<line x1="87.2" y1="189.06" x2="101.8" y2="154.8" stroke="#444" stroke-width="0.45" />
<line x1="87.2" y1="192.46" x2="101.8" y2="160.39" stroke="#444" stroke-width="0.45" />
<line x1="87.2" y1="195.13" x2="101.8" y2="167.92" stroke="#444" stroke-width="0.45" />
<circle cx="101.8" cy="143.86" r="2.0" fill="#b9dcbc" stroke="#3d4a40" stroke-width="0.55"/>
<circle cx="101.8" cy="147.51" r="2.0" fill="#b9dcbc" stroke="#3d4a40" stroke-width="0.55"/>
<circle cx="101.8" cy="154.8" r="2.0" fill="#b9dcbc" stroke="#3d4a40" stroke-width="0.55"/>
<circle cx="101.8" cy="160.39" r="2.0" fill="#b9dcbc" stroke="#3d4a40" stroke-width="0.55"/>
<circle cx="101.8" cy="167.92" r="2.0" fill="#b9dcbc" stroke="#3d4a40" stroke-width="0.55"/>
<circle cx="87.2" cy="182.01" r="2.0" fill="#8d9a9b" stroke="#333a3c" stroke-width="0.55"/>
<circle cx="87.2" cy="187.6" r="2.0" fill="#8d9a9b" stroke="#333a3c" stroke-width="0.55"/>
<circle cx="87.2" cy="189.06" r="2.0" fill="#8d9a9b" stroke="#333a3c" stroke-width="0.55"/>
<circle cx="87.2" cy="192.46" r="2.0" fill="#8d9a9b" stroke="#333a3c" stroke-width="0.55"/>
<circle cx="87.2" cy="195.13" r="2.0" fill="#8d9a9b" stroke="#333a3c" stroke-width="0.55"/>
<text x="82.6" y="136.85" font-size="5.0" fill="#3a3a3a" stroke="#3a3a3a" stroke-width="0.05"><tspan font-style="italic">p</tspan> = 0.0036</text>
<line x1="87.2" y1="137.5" x2="101.8" y2="137.5" stroke="#555" stroke-width="0.6" />
<text x="49.8" y="171.3" font-size="7.0" text-anchor="middle" fill="#2a2a2a" stroke="#2a2a2a" stroke-width="0.12" transform="rotate(-90 49.8 171.3)" >Peak area</text>
<text x="104.6" y="224.5" font-size="6.8" text-anchor="middle" fill="#2a2a2a" stroke="#2a2a2a" stroke-width="0.12" >Acetyl-CoA</text>
<line x1="41.5" y1="251.7" x2="41.5" y2="324.3" stroke="#7a7a7a" stroke-width="0.9" />
<line x1="38.3" y1="324.3" x2="41.2" y2="324.3" stroke="#666" stroke-width="0.65" />
<text x="36.2" y="326.81" font-size="6.6" text-anchor="end" fill="#2a2a2a" stroke="#2a2a2a" stroke-width="0.12" >0</text>
<line x1="38.3" y1="288" x2="41.2" y2="288" stroke="#666" stroke-width="0.65" />
<text x="37.4" y="290.51" font-size="6.6" text-anchor="end" fill="#2a2a2a" stroke="#2a2a2a" stroke-width="0.12" ><tspan letter-spacing="0.55">1×10</tspan><tspan font-size="4.5" dy="-2.8">8</tspan></text>
<line x1="38.3" y1="251.7" x2="41.2" y2="251.7" stroke="#666" stroke-width="0.65" />
<text x="37.4" y="254.21" font-size="6.6" text-anchor="end" fill="#2a2a2a" stroke="#2a2a2a" stroke-width="0.12" ><tspan letter-spacing="0.55">2×10</tspan><tspan font-size="4.5" dy="-2.8">8</tspan></text>
<line x1="41.2" y1="324.5" x2="73.2" y2="324.5" stroke="#7a7a7a" stroke-width="0.9" />
<line x1="50.1" y1="324.3" x2="50.1" y2="326.7" stroke="#555" stroke-width="0.7" />
<line x1="64.6" y1="324.3" x2="64.6" y2="326.7" stroke="#555" stroke-width="0.7" />
<line x1="50.1" y1="274.21" x2="64.6" y2="288.36" stroke="#444" stroke-width="0.45" />
<line x1="50.1" y1="282.01" x2="64.6" y2="275.8" stroke="#444" stroke-width="0.45" />
<line x1="50.1" y1="283.1" x2="64.6" y2="281.47" stroke="#444" stroke-width="0.45" />
<line x1="50.1" y1="286.4" x2="64.6" y2="286.11" stroke="#444" stroke-width="0.45" />
<line x1="50.1" y1="287.49" x2="64.6" y2="296.2" stroke="#444" stroke-width="0.45" />
<circle cx="64.6" cy="275.8" r="2.0" fill="#b9dcbc" stroke="#3d4a40" stroke-width="0.55"/>
<circle cx="64.6" cy="281.47" r="2.0" fill="#b9dcbc" stroke="#3d4a40" stroke-width="0.55"/>
<circle cx="64.6" cy="286.11" r="2.0" fill="#b9dcbc" stroke="#3d4a40" stroke-width="0.55"/>
<circle cx="64.6" cy="288.36" r="2.0" fill="#b9dcbc" stroke="#3d4a40" stroke-width="0.55"/>
<circle cx="64.6" cy="296.2" r="2.0" fill="#b9dcbc" stroke="#3d4a40" stroke-width="0.55"/>
<circle cx="50.1" cy="274.21" r="2.0" fill="#8d9a9b" stroke="#333a3c" stroke-width="0.55"/>
<circle cx="50.1" cy="282.01" r="2.0" fill="#8d9a9b" stroke="#333a3c" stroke-width="0.55"/>
<circle cx="50.1" cy="283.1" r="2.0" fill="#8d9a9b" stroke="#333a3c" stroke-width="0.55"/>
<circle cx="50.1" cy="286.4" r="2.0" fill="#8d9a9b" stroke="#333a3c" stroke-width="0.55"/>
<circle cx="50.1" cy="287.49" r="2.0" fill="#8d9a9b" stroke="#333a3c" stroke-width="0.55"/>
<text x="12.8" y="287.5" font-size="7.0" text-anchor="middle" fill="#2a2a2a" stroke="#2a2a2a" stroke-width="0.12" transform="rotate(-90 12.8 287.5)" >Peak area</text>
<line x1="201.5" y1="162.6" x2="201.5" y2="235.4" stroke="#7a7a7a" stroke-width="0.9" />
<line x1="198.9" y1="235.4" x2="201.8" y2="235.4" stroke="#666" stroke-width="0.65" />
<text x="196.8" y="237.91" font-size="6.6" text-anchor="end" fill="#2a2a2a" stroke="#2a2a2a" stroke-width="0.12" >0</text>
<line x1="198.9" y1="211.13" x2="201.8" y2="211.13" stroke="#666" stroke-width="0.65" />
<text x="198" y="213.64" font-size="6.6" text-anchor="end" fill="#2a2a2a" stroke="#2a2a2a" stroke-width="0.12" ><tspan letter-spacing="0.55">1×10</tspan><tspan font-size="4.5" dy="-2.8">5</tspan></text>
<line x1="198.9" y1="186.87" x2="201.8" y2="186.87" stroke="#666" stroke-width="0.65" />
<text x="198" y="189.37" font-size="6.6" text-anchor="end" fill="#2a2a2a" stroke="#2a2a2a" stroke-width="0.12" ><tspan letter-spacing="0.55">2×10</tspan><tspan font-size="4.5" dy="-2.8">5</tspan></text>
<line x1="198.9" y1="162.6" x2="201.8" y2="162.6" stroke="#666" stroke-width="0.65" />
<text x="198" y="165.11" font-size="6.6" text-anchor="end" fill="#2a2a2a" stroke="#2a2a2a" stroke-width="0.12" ><tspan letter-spacing="0.55">3×10</tspan><tspan font-size="4.5" dy="-2.8">5</tspan></text>
<line x1="201.8" y1="235.5" x2="233.6" y2="235.5" stroke="#7a7a7a" stroke-width="0.9" />
<line x1="210.6" y1="235.4" x2="210.6" y2="237.8" stroke="#555" stroke-width="0.7" />
<line x1="225" y1="235.4" x2="225" y2="237.8" stroke="#555" stroke-width="0.7" />
<line x1="210.6" y1="198.51" x2="225" y2="188.81" stroke="#444" stroke-width="0.45" />
<line x1="210.6" y1="198.51" x2="225" y2="198.51" stroke="#444" stroke-width="0.45" />
<line x1="210.6" y1="206.28" x2="225" y2="207.01" stroke="#444" stroke-width="0.45" />
<line x1="210.6" y1="212.1" x2="225" y2="207.74" stroke="#444" stroke-width="0.45" />
<line x1="210.6" y1="212.1" x2="225" y2="218.17" stroke="#444" stroke-width="0.45" />
<circle cx="225" cy="188.81" r="2.0" fill="#b9dcbc" stroke="#3d4a40" stroke-width="0.55"/>
<circle cx="225" cy="198.51" r="2.0" fill="#b9dcbc" stroke="#3d4a40" stroke-width="0.55"/>
<circle cx="225" cy="207.01" r="2.0" fill="#b9dcbc" stroke="#3d4a40" stroke-width="0.55"/>
<circle cx="225" cy="207.74" r="2.0" fill="#b9dcbc" stroke="#3d4a40" stroke-width="0.55"/>
<circle cx="225" cy="218.17" r="2.0" fill="#b9dcbc" stroke="#3d4a40" stroke-width="0.55"/>
<circle cx="210.6" cy="198.51" r="2.0" fill="#8d9a9b" stroke="#333a3c" stroke-width="0.55"/>
<circle cx="210.6" cy="198.51" r="2.0" fill="#8d9a9b" stroke="#333a3c" stroke-width="0.55"/>
<circle cx="210.6" cy="206.28" r="2.0" fill="#8d9a9b" stroke="#333a3c" stroke-width="0.55"/>
<circle cx="210.6" cy="212.1" r="2.0" fill="#8d9a9b" stroke="#333a3c" stroke-width="0.55"/>
<circle cx="210.6" cy="212.1" r="2.0" fill="#8d9a9b" stroke="#333a3c" stroke-width="0.55"/>
<text x="173.9" y="198.5" font-size="7.0" text-anchor="middle" fill="#2a2a2a" stroke="#2a2a2a" stroke-width="0.12" transform="rotate(-90 173.9 198.5)" >Peak area</text>
<line x1="264.5" y1="251.7" x2="264.5" y2="324.3" stroke="#7a7a7a" stroke-width="0.9" />
<line x1="261.2" y1="324.3" x2="264.1" y2="324.3" stroke="#666" stroke-width="0.65" />
<text x="259.1" y="326.81" font-size="6.6" text-anchor="end" fill="#2a2a2a" stroke="#2a2a2a" stroke-width="0.12" >0</text>
<line x1="261.2" y1="300.1" x2="264.1" y2="300.1" stroke="#666" stroke-width="0.65" />
<text x="260.3" y="302.61" font-size="6.6" text-anchor="end" fill="#2a2a2a" stroke="#2a2a2a" stroke-width="0.12" ><tspan letter-spacing="0.55">1×10</tspan><tspan font-size="4.5" dy="-2.8">6</tspan></text>
<line x1="261.2" y1="275.9" x2="264.1" y2="275.9" stroke="#666" stroke-width="0.65" />
<text x="260.3" y="278.41" font-size="6.6" text-anchor="end" fill="#2a2a2a" stroke="#2a2a2a" stroke-width="0.12" ><tspan letter-spacing="0.55">2×10</tspan><tspan font-size="4.5" dy="-2.8">6</tspan></text>
<line x1="261.2" y1="251.7" x2="264.1" y2="251.7" stroke="#666" stroke-width="0.65" />
<text x="260.3" y="254.21" font-size="6.6" text-anchor="end" fill="#2a2a2a" stroke="#2a2a2a" stroke-width="0.12" ><tspan letter-spacing="0.55">3×10</tspan><tspan font-size="4.5" dy="-2.8">6</tspan></text>
<line x1="264.1" y1="324.5" x2="296.6" y2="324.5" stroke="#7a7a7a" stroke-width="0.9" />
<line x1="273.5" y1="324.3" x2="273.5" y2="326.7" stroke="#555" stroke-width="0.7" />
<line x1="287.7" y1="324.3" x2="287.7" y2="326.7" stroke="#555" stroke-width="0.7" />
<line x1="273.5" y1="278.56" x2="287.7" y2="284.13" stroke="#444" stroke-width="0.45" />
<line x1="273.5" y1="282.68" x2="287.7" y2="278.32" stroke="#444" stroke-width="0.45" />
<line x1="273.5" y1="288.48" x2="287.7" y2="269.37" stroke="#444" stroke-width="0.45" />
<line x1="273.5" y1="289.94" x2="287.7" y2="288.48" stroke="#444" stroke-width="0.45" />
<line x1="273.5" y1="292.11" x2="287.7" y2="294.53" stroke="#444" stroke-width="0.45" />
<circle cx="287.7" cy="269.37" r="2.0" fill="#b9dcbc" stroke="#3d4a40" stroke-width="0.55"/>
<circle cx="287.7" cy="278.32" r="2.0" fill="#b9dcbc" stroke="#3d4a40" stroke-width="0.55"/>
<circle cx="287.7" cy="284.13" r="2.0" fill="#b9dcbc" stroke="#3d4a40" stroke-width="0.55"/>
<circle cx="287.7" cy="288.48" r="2.0" fill="#b9dcbc" stroke="#3d4a40" stroke-width="0.55"/>
<circle cx="287.7" cy="294.53" r="2.0" fill="#b9dcbc" stroke="#3d4a40" stroke-width="0.55"/>
<circle cx="273.5" cy="278.56" r="2.0" fill="#8d9a9b" stroke="#333a3c" stroke-width="0.55"/>
<circle cx="273.5" cy="282.68" r="2.0" fill="#8d9a9b" stroke="#333a3c" stroke-width="0.55"/>
<circle cx="273.5" cy="288.48" r="2.0" fill="#8d9a9b" stroke="#333a3c" stroke-width="0.55"/>
<circle cx="273.5" cy="289.94" r="2.0" fill="#8d9a9b" stroke="#333a3c" stroke-width="0.55"/>
<circle cx="273.5" cy="292.11" r="2.0" fill="#8d9a9b" stroke="#333a3c" stroke-width="0.55"/>
<text x="236.1" y="287.5" font-size="7.0" text-anchor="middle" fill="#2a2a2a" stroke="#2a2a2a" stroke-width="0.12" transform="rotate(-90 236.1 287.5)" >Peak area</text>
<line x1="124.5" y1="332.3" x2="124.5" y2="405.2" stroke="#7a7a7a" stroke-width="0.9" />
<line x1="121.2" y1="405.2" x2="124.1" y2="405.2" stroke="#666" stroke-width="0.65" />
<text x="119.1" y="407.71" font-size="6.6" text-anchor="end" fill="#2a2a2a" stroke="#2a2a2a" stroke-width="0.12" >0</text>
<line x1="121.2" y1="386.98" x2="124.1" y2="386.98" stroke="#666" stroke-width="0.65" />
<text x="120.3" y="389.48" font-size="6.6" text-anchor="end" fill="#2a2a2a" stroke="#2a2a2a" stroke-width="0.12" ><tspan letter-spacing="0.55">1×10</tspan><tspan font-size="4.5" dy="-2.8">8</tspan></text>
<line x1="121.2" y1="368.75" x2="124.1" y2="368.75" stroke="#666" stroke-width="0.65" />
<text x="120.3" y="371.26" font-size="6.6" text-anchor="end" fill="#2a2a2a" stroke="#2a2a2a" stroke-width="0.12" ><tspan letter-spacing="0.55">2×10</tspan><tspan font-size="4.5" dy="-2.8">8</tspan></text>
<line x1="121.2" y1="350.52" x2="124.1" y2="350.52" stroke="#666" stroke-width="0.65" />
<text x="120.3" y="353.03" font-size="6.6" text-anchor="end" fill="#2a2a2a" stroke="#2a2a2a" stroke-width="0.12" ><tspan letter-spacing="0.55">3×10</tspan><tspan font-size="4.5" dy="-2.8">8</tspan></text>
<line x1="121.2" y1="332.3" x2="124.1" y2="332.3" stroke="#666" stroke-width="0.65" />
<text x="120.3" y="334.81" font-size="6.6" text-anchor="end" fill="#2a2a2a" stroke="#2a2a2a" stroke-width="0.12" ><tspan letter-spacing="0.55">4×10</tspan><tspan font-size="4.5" dy="-2.8">8</tspan></text>
<line x1="124.1" y1="405.5" x2="156.9" y2="405.5" stroke="#7a7a7a" stroke-width="0.9" />
<line x1="133.8" y1="405.2" x2="133.8" y2="407.6" stroke="#555" stroke-width="0.7" />
<line x1="148.5" y1="405.2" x2="148.5" y2="407.6" stroke="#555" stroke-width="0.7" />
<line x1="133.8" y1="354.72" x2="148.5" y2="372.21" stroke="#444" stroke-width="0.45" />
<line x1="133.8" y1="360.73" x2="148.5" y2="376.77" stroke="#444" stroke-width="0.45" />
<line x1="133.8" y1="363.46" x2="148.5" y2="384.97" stroke="#444" stroke-width="0.45" />
<line x1="133.8" y1="371.67" x2="148.5" y2="390.07" stroke="#444" stroke-width="0.45" />
<circle cx="148.5" cy="372.21" r="2.0" fill="#b9dcbc" stroke="#3d4a40" stroke-width="0.55"/>
<circle cx="148.5" cy="376.77" r="2.0" fill="#b9dcbc" stroke="#3d4a40" stroke-width="0.55"/>
<circle cx="148.5" cy="384.97" r="2.0" fill="#b9dcbc" stroke="#3d4a40" stroke-width="0.55"/>
<circle cx="148.5" cy="390.07" r="2.0" fill="#b9dcbc" stroke="#3d4a40" stroke-width="0.55"/>
<circle cx="133.8" cy="354.72" r="2.0" fill="#8d9a9b" stroke="#333a3c" stroke-width="0.55"/>
<circle cx="133.8" cy="360.73" r="2.0" fill="#8d9a9b" stroke="#333a3c" stroke-width="0.55"/>
<circle cx="133.8" cy="363.46" r="2.0" fill="#8d9a9b" stroke="#333a3c" stroke-width="0.55"/>
<circle cx="133.8" cy="371.67" r="2.0" fill="#8d9a9b" stroke="#333a3c" stroke-width="0.55"/>
<text x="129.3" y="334.05" font-size="5.0" fill="#3a3a3a" stroke="#3a3a3a" stroke-width="0.05"><tspan font-style="italic">p</tspan> = 0.0004</text>
<line x1="133.8" y1="334.5" x2="148.5" y2="334.5" stroke="#555" stroke-width="0.6" />
<text x="96.1" y="369" font-size="7.0" text-anchor="middle" fill="#2a2a2a" stroke="#2a2a2a" stroke-width="0.12" transform="rotate(-90 96.1 369)" >Peak area</text>
<rect x="203.3" y="339" width="39.4" height="21.6" fill="#fff" stroke="#555" stroke-width="0.6"/>
<circle cx="209.7" cy="344.9" r="2.5" fill="#8d9a9b" stroke="#445" stroke-width="0.5"/>
<circle cx="209.7" cy="354.8" r="2.5" fill="#b9dcbc" stroke="#556" stroke-width="0.5"/>
<text x="218" y="347" font-size="6.0" text-anchor="start" fill="#2a2a2a" stroke="#2a2a2a" stroke-width="0.12" >Vehicle</text>
<text x="218" y="356.9" font-size="6.0" text-anchor="start" fill="#2a2a2a" stroke="#2a2a2a" stroke-width="0.12" >ML-226</text>
<path d="M84.2,285 C83.5,273 87,263 96,260.2 C108,258.5 122,256.5 134,250.5 C146,244.5 155,239 165,236 C173,233.6 181,234.8 187.5,239.5 C195,245 200.5,253 201.8,264 C202.2,268 202.2,270 202,272 C201.3,285 195.5,300 179,311.8 C164,321.5 145,327.6 124,325.8 C104,323.5 87,306 84.2,285 Z" fill="#e6e2d7"/>
<path d="M84.2,285 C83.5,273 87,263 96,260.2 C108,258.5 122,256.5 134,250.5 C146,244.5 155,239 165,236 C173,233.6 181,234.8 187.5,239.5 C195,245 200.5,253 201.8,264 C202.2,268 202.2,270 202,272 C201.3,285 195.5,300 179,311.8 C164,321.5 145,327.6 124,325.8 C104,323.5 87,306 84.2,285 Z" fill="#fbfaf7" transform="translate(143.0 281.0) scale(0.925 0.9) translate(-143.0 -281.0)"/>
<path d="M84.2,285 C83.5,273 87,263 96,260.2 C108,258.5 122,256.5 134,250.5 C146,244.5 155,239 165,236 C173,233.6 181,234.8 187.5,239.5 C195,245 200.5,253 201.8,264 C202.2,268 202.2,270 202,272 C201.3,285 195.5,300 179,311.8 C164,321.5 145,327.6 124,325.8 C104,323.5 87,306 84.2,285 Z" fill="#ebe7dd" transform="translate(143.0 281.0) scale(0.905 0.875) translate(-143.0 -281.0)"/>
<defs><clipPath id="mitoc"><path d="M84.2,285 C83.5,273 87,263 96,260.2 C108,258.5 122,256.5 134,250.5 C146,244.5 155,239 165,236 C173,233.6 181,234.8 187.5,239.5 C195,245 200.5,253 201.8,264 C202.2,268 202.2,270 202,272 C201.3,285 195.5,300 179,311.8 C164,321.5 145,327.6 124,325.8 C104,323.5 87,306 84.2,285 Z" transform="translate(143.0 281.0) scale(0.885 0.848) translate(-143.0 -281.0)"/></clipPath></defs>
<g clip-path="url(#mitoc)">
<path d="M84.2,285 C83.5,273 87,263 96,260.2 C108,258.5 122,256.5 134,250.5 C146,244.5 155,239 165,236 C173,233.6 181,234.8 187.5,239.5 C195,245 200.5,253 201.8,264 C202.2,268 202.2,270 202,272 C201.3,285 195.5,300 179,311.8 C164,321.5 145,327.6 124,325.8 C104,323.5 87,306 84.2,285 Z" fill="#f9f8f4" transform="translate(143.0 281.0) scale(0.885 0.848) translate(-143.0 -281.0)"/>
<polyline points="96,300 101,268 106,316 114,262 122,320 130,256 138,322 146,250 154,320 162,244 170,314 178,242 186,304 192,250 196,290" fill="none" stroke="#ebe7dc" stroke-width="3.4" stroke-linejoin="round"/>
</g>
<defs><marker id="ah" markerWidth="6" markerHeight="6" refX="4.2" refY="2.5" orient="auto" markerUnits="userSpaceOnUse"><path d="M0,0.4 L4.6,2.5 L0,4.6 L1.2,2.5 Z" fill="#222"/></marker></defs>
<path d="M99.5,287.5 C96,262 110,240 132,237.8 C142,237 150,238.8 156.5,241.8" fill="none" stroke="#222" stroke-width="0.55" marker-end="url(#ah)"/>
<path d="M109.7,227 C114,233 122,237 133,237.8" fill="none" stroke="#222" stroke-width="0.55"/>
<path d="M174.1,258.7 C180,266 182,278 178.6,291.8" fill="none" stroke="#222" stroke-width="0.55" marker-end="url(#ah)"/>
<path d="M169.6,306.5 C166,311 162,313.5 157.2,315.2" fill="none" stroke="#222" stroke-width="0.55" marker-end="url(#ah)"/>
<path d="M121.2,315.2 C116,312.5 112,309 108.3,304.3" fill="none" stroke="#222" stroke-width="0.55" marker-end="url(#ah)"/>
<text x="171" y="247.6" font-size="6.8" text-anchor="middle" fill="#2a2a2a" stroke="#2a2a2a" stroke-width="0.12" >Citrate /</text>
<text x="171" y="255.8" font-size="6.8" text-anchor="middle" fill="#2a2a2a" stroke="#2a2a2a" stroke-width="0.12" >Isocitrate</text>
<text x="140" y="276.8" font-size="6.8" text-anchor="middle" fill="#2a2a2a" stroke="#2a2a2a" stroke-width="0.12" >TCA</text>
<text x="140" y="284.6" font-size="6.8" text-anchor="middle" fill="#2a2a2a" stroke="#2a2a2a" stroke-width="0.12" >cycle</text>
<text x="99.1" y="299.4" font-size="6.8" text-anchor="middle" fill="#2a2a2a" stroke="#2a2a2a" stroke-width="0.12" >Malate</text>
<text x="189.4" y="300.6" font-size="6.8" text-anchor="middle" fill="#2a2a2a" stroke="#2a2a2a" stroke-width="0.12" >α-ketoglutarate</text>
<text x="138.8" y="320.4" font-size="6.8" text-anchor="middle" fill="#2a2a2a" stroke="#2a2a2a" stroke-width="0.12" >Succinate</text>
<text x="312.8" y="151.3" font-size="14.2" text-anchor="start" fill="#000" font-weight="bold" >f</text>
<line x1="340.5" y1="168.1" x2="340.5" y2="240.5" stroke="#7a7a7a" stroke-width="0.9" />
<line x1="338" y1="240.5" x2="340.8" y2="240.5" stroke="#666" stroke-width="0.65" />
<text x="336.5" y="243.08" font-size="6.8" text-anchor="end" fill="#2a2a2a" stroke="#2a2a2a" stroke-width="0.12" >0.0</text>
<line x1="338" y1="222.4" x2="340.8" y2="222.4" stroke="#666" stroke-width="0.65" />
<text x="336.5" y="224.98" font-size="6.8" text-anchor="end" fill="#2a2a2a" stroke="#2a2a2a" stroke-width="0.12" >0.5</text>
<line x1="338" y1="204.3" x2="340.8" y2="204.3" stroke="#666" stroke-width="0.65" />
<text x="336.5" y="206.88" font-size="6.8" text-anchor="end" fill="#2a2a2a" stroke="#2a2a2a" stroke-width="0.12" >1.0</text>
<line x1="338" y1="186.2" x2="340.8" y2="186.2" stroke="#666" stroke-width="0.65" />
<text x="336.5" y="188.78" font-size="6.8" text-anchor="end" fill="#2a2a2a" stroke="#2a2a2a" stroke-width="0.12" >1.5</text>
<line x1="338" y1="168.1" x2="340.8" y2="168.1" stroke="#666" stroke-width="0.65" />
<text x="336.5" y="170.68" font-size="6.8" text-anchor="end" fill="#2a2a2a" stroke="#2a2a2a" stroke-width="0.12" >2.0</text>
<rect x="345.3" y="215.88" width="10.5" height="24.62" fill="#949d9e"/>
<rect x="360.3" y="194.89" width="10.2" height="45.61" fill="#bcd8c0"/>
<line x1="340.8" y1="240.5" x2="374" y2="240.5" stroke="#7a7a7a" stroke-width="0.9" />
<line x1="350.5" y1="240.5" x2="350.5" y2="242.9" stroke="#555" stroke-width="0.7" />
<line x1="365.2" y1="240.5" x2="365.2" y2="242.9" stroke="#555" stroke-width="0.7" />
<line x1="350.5" y1="213.35" x2="365.2" y2="179.32" stroke="#333" stroke-width="0.45" />
<line x1="350.5" y1="214.07" x2="365.2" y2="186.56" stroke="#333" stroke-width="0.45" />
<line x1="350.5" y1="214.44" x2="365.2" y2="202.49" stroke="#333" stroke-width="0.45" />
<line x1="350.5" y1="222.04" x2="365.2" y2="211.9" stroke="#333" stroke-width="0.45" />
<circle cx="350.5" cy="213.35" r="1.85" fill="#fff" stroke="#222" stroke-width="0.55"/>
<circle cx="350.5" cy="214.07" r="1.85" fill="#fff" stroke="#222" stroke-width="0.55"/>
<circle cx="350.5" cy="214.44" r="1.85" fill="#fff" stroke="#222" stroke-width="0.55"/>
<circle cx="350.5" cy="222.04" r="1.85" fill="#fff" stroke="#222" stroke-width="0.55"/>
<circle cx="365.2" cy="179.32" r="1.85" fill="#fff" stroke="#222" stroke-width="0.55"/>
<circle cx="365.2" cy="186.56" r="1.85" fill="#fff" stroke="#222" stroke-width="0.55"/>
<circle cx="365.2" cy="202.49" r="1.85" fill="#fff" stroke="#222" stroke-width="0.55"/>
<circle cx="365.2" cy="211.9" r="1.85" fill="#fff" stroke="#222" stroke-width="0.55"/>
<text x="345.7" y="169.85" font-size="5.0" fill="#3a3a3a" stroke="#3a3a3a" stroke-width="0.05"><tspan font-style="italic">p</tspan> = 0.0434</text>
<line x1="350.6" y1="170.5" x2="364.9" y2="170.5" stroke="#555" stroke-width="0.6" />
<text x="324.6" y="204.8" font-size="7.0" text-anchor="middle" fill="#2a2a2a" stroke="#2a2a2a" stroke-width="0.12" transform="rotate(-90 324.6 204.8)" >α-KG / Succinate</text>
<text x="352.9" y="249" font-size="7.2" text-anchor="end" fill="#2a2a2a" stroke="#2a2a2a" stroke-width="0.12" transform="rotate(-45 352.9 249)" >Vehicle</text>
<text x="367.6" y="249" font-size="7.2" text-anchor="end" fill="#2a2a2a" stroke="#2a2a2a" stroke-width="0.12" transform="rotate(-45 367.6 249)" >ML-226</text>
<text x="397.2" y="151.3" font-size="14.2" text-anchor="start" fill="#000" font-weight="bold" >g</text>
<line x1="438.5" y1="168.2" x2="438.5" y2="240.8" stroke="#7a7a7a" stroke-width="0.9" />
<line x1="435.6" y1="240.8" x2="438.5" y2="240.8" stroke="#666" stroke-width="0.65" />
<text x="433.5" y="243.31" font-size="6.6" text-anchor="end" fill="#2a2a2a" stroke="#2a2a2a" stroke-width="0.12" >0</text>
<line x1="435.6" y1="226.28" x2="438.5" y2="226.28" stroke="#666" stroke-width="0.65" />
<text x="434.7" y="228.79" font-size="6.6" text-anchor="end" fill="#2a2a2a" stroke="#2a2a2a" stroke-width="0.12" ><tspan letter-spacing="0.55">1×10</tspan><tspan font-size="4.5" dy="-2.8">9</tspan></text>
<line x1="435.6" y1="211.76" x2="438.5" y2="211.76" stroke="#666" stroke-width="0.65" />
<text x="434.7" y="214.27" font-size="6.6" text-anchor="end" fill="#2a2a2a" stroke="#2a2a2a" stroke-width="0.12" ><tspan letter-spacing="0.55">2×10</tspan><tspan font-size="4.5" dy="-2.8">9</tspan></text>
<line x1="435.6" y1="197.24" x2="438.5" y2="197.24" stroke="#666" stroke-width="0.65" />
<text x="434.7" y="199.75" font-size="6.6" text-anchor="end" fill="#2a2a2a" stroke="#2a2a2a" stroke-width="0.12" ><tspan letter-spacing="0.55">3×10</tspan><tspan font-size="4.5" dy="-2.8">9</tspan></text>
<line x1="435.6" y1="182.72" x2="438.5" y2="182.72" stroke="#666" stroke-width="0.65" />
<text x="434.7" y="185.23" font-size="6.6" text-anchor="end" fill="#2a2a2a" stroke="#2a2a2a" stroke-width="0.12" ><tspan letter-spacing="0.55">4×10</tspan><tspan font-size="4.5" dy="-2.8">9</tspan></text>
<line x1="435.6" y1="168.2" x2="438.5" y2="168.2" stroke="#666" stroke-width="0.65" />
<text x="434.7" y="170.71" font-size="6.6" text-anchor="end" fill="#2a2a2a" stroke="#2a2a2a" stroke-width="0.12" ><tspan letter-spacing="0.55">5×10</tspan><tspan font-size="4.5" dy="-2.8">9</tspan></text>
<line x1="438.5" y1="240.5" x2="470.9" y2="240.5" stroke="#7a7a7a" stroke-width="0.9" />
<line x1="447.6" y1="240.8" x2="447.6" y2="243.2" stroke="#555" stroke-width="0.7" />
<line x1="461.8" y1="240.8" x2="461.8" y2="243.2" stroke="#555" stroke-width="0.7" />
<line x1="447.6" y1="203.05" x2="461.8" y2="185.62" stroke="#444" stroke-width="0.45" />
<line x1="447.6" y1="211.03" x2="461.8" y2="193.32" stroke="#444" stroke-width="0.45" />
<line x1="447.6" y1="213.94" x2="461.8" y2="209.87" stroke="#444" stroke-width="0.45" />
<line x1="447.6" y1="227.44" x2="461.8" y2="207.55" stroke="#444" stroke-width="0.45" />
<circle cx="461.8" cy="185.62" r="1.85" fill="#b9dcbc" stroke="#3d4a40" stroke-width="0.55"/>
<circle cx="461.8" cy="193.32" r="1.85" fill="#b9dcbc" stroke="#3d4a40" stroke-width="0.55"/>
<circle cx="461.8" cy="209.87" r="1.85" fill="#b9dcbc" stroke="#3d4a40" stroke-width="0.55"/>
<circle cx="461.8" cy="207.55" r="1.85" fill="#b9dcbc" stroke="#3d4a40" stroke-width="0.55"/>
<circle cx="447.6" cy="203.05" r="1.85" fill="#8d9a9b" stroke="#333a3c" stroke-width="0.55"/>
<circle cx="447.6" cy="211.03" r="1.85" fill="#8d9a9b" stroke="#333a3c" stroke-width="0.55"/>
<circle cx="447.6" cy="213.94" r="1.85" fill="#8d9a9b" stroke="#333a3c" stroke-width="0.55"/>
<circle cx="447.6" cy="227.44" r="1.85" fill="#8d9a9b" stroke="#333a3c" stroke-width="0.55"/>
<text x="442.7" y="169.95" font-size="5.0" fill="#3a3a3a" stroke="#3a3a3a" stroke-width="0.05"><tspan font-style="italic">p</tspan> = 0.0278</text>
<line x1="447.6" y1="170.5" x2="461.8" y2="170.5" stroke="#555" stroke-width="0.6" />
<text x="454.9" y="157.6" font-size="6.9" text-anchor="middle" fill="#2a2a2a" stroke="#2a2a2a" stroke-width="0.12" >Glutamine</text>
<text x="412.5" y="205" font-size="7.0" text-anchor="middle" fill="#2a2a2a" stroke="#2a2a2a" stroke-width="0.12" transform="rotate(-90 412.5 205)" >Peak area</text>
<text x="450" y="249.3" font-size="7.2" text-anchor="end" fill="#2a2a2a" stroke="#2a2a2a" stroke-width="0.12" transform="rotate(-45 450 249.3)" >Vehicle</text>
<text x="464.2" y="249.3" font-size="7.2" text-anchor="end" fill="#2a2a2a" stroke="#2a2a2a" stroke-width="0.12" transform="rotate(-45 464.2 249.3)" >ML-226</text>
<line x1="509.5" y1="168.2" x2="509.5" y2="240.8" stroke="#7a7a7a" stroke-width="0.9" />
<line x1="506.2" y1="240.8" x2="509.1" y2="240.8" stroke="#666" stroke-width="0.65" />
<text x="504.1" y="243.31" font-size="6.6" text-anchor="end" fill="#2a2a2a" stroke="#2a2a2a" stroke-width="0.12" >0</text>
<line x1="506.2" y1="204.5" x2="509.1" y2="204.5" stroke="#666" stroke-width="0.65" />
<text x="505.3" y="207.01" font-size="6.6" text-anchor="end" fill="#2a2a2a" stroke="#2a2a2a" stroke-width="0.12" ><tspan letter-spacing="0.55">1×10</tspan><tspan font-size="4.5" dy="-2.8">9</tspan></text>
<line x1="506.2" y1="168.2" x2="509.1" y2="168.2" stroke="#666" stroke-width="0.65" />
<text x="505.3" y="170.71" font-size="6.6" text-anchor="end" fill="#2a2a2a" stroke="#2a2a2a" stroke-width="0.12" ><tspan letter-spacing="0.55">2×10</tspan><tspan font-size="4.5" dy="-2.8">9</tspan></text>
<line x1="509.1" y1="240.5" x2="541.5" y2="240.5" stroke="#7a7a7a" stroke-width="0.9" />
<line x1="518.1" y1="240.8" x2="518.1" y2="243.2" stroke="#555" stroke-width="0.7" />
<line x1="532.3" y1="240.8" x2="532.3" y2="243.2" stroke="#555" stroke-width="0.7" />
<line x1="518.1" y1="180.18" x2="532.3" y2="195.06" stroke="#444" stroke-width="0.45" />
<line x1="518.1" y1="186.35" x2="532.3" y2="200.87" stroke="#444" stroke-width="0.45" />
<line x1="518.1" y1="187.44" x2="532.3" y2="197.6" stroke="#444" stroke-width="0.45" />
<line x1="518.1" y1="191.79" x2="532.3" y2="190.71" stroke="#444" stroke-width="0.45" />
<line x1="518.1" y1="189.98" x2="532.3" y2="192.88" stroke="#444" stroke-width="0.45" />
<circle cx="532.3" cy="195.06" r="1.85" fill="#b9dcbc" stroke="#3d4a40" stroke-width="0.55"/>
<circle cx="532.3" cy="200.87" r="1.85" fill="#b9dcbc" stroke="#3d4a40" stroke-width="0.55"/>
<circle cx="532.3" cy="197.6" r="1.85" fill="#b9dcbc" stroke="#3d4a40" stroke-width="0.55"/>
<circle cx="532.3" cy="190.71" r="1.85" fill="#b9dcbc" stroke="#3d4a40" stroke-width="0.55"/>
<circle cx="532.3" cy="192.88" r="1.85" fill="#b9dcbc" stroke="#3d4a40" stroke-width="0.55"/>
<circle cx="518.1" cy="180.18" r="1.85" fill="#8d9a9b" stroke="#333a3c" stroke-width="0.55"/>
<circle cx="518.1" cy="186.35" r="1.85" fill="#8d9a9b" stroke="#333a3c" stroke-width="0.55"/>
<circle cx="518.1" cy="187.44" r="1.85" fill="#8d9a9b" stroke="#333a3c" stroke-width="0.55"/>
<circle cx="518.1" cy="191.79" r="1.85" fill="#8d9a9b" stroke="#333a3c" stroke-width="0.55"/>
<circle cx="518.1" cy="189.98" r="1.85" fill="#8d9a9b" stroke="#333a3c" stroke-width="0.55"/>
<text x="513.1" y="169.95" font-size="5.0" fill="#3a3a3a" stroke="#3a3a3a" stroke-width="0.05"><tspan font-style="italic">p</tspan> = 0.0572</text>
<line x1="518.1" y1="170.5" x2="532.3" y2="170.5" stroke="#555" stroke-width="0.6" />
<text x="525" y="157.6" font-size="6.9" text-anchor="middle" fill="#2a2a2a" stroke="#2a2a2a" stroke-width="0.12" >Glutamate</text>
<text x="483" y="205" font-size="7.0" text-anchor="middle" fill="#2a2a2a" stroke="#2a2a2a" stroke-width="0.12" transform="rotate(-90 483 205)" >Peak area</text>
<text x="520.5" y="249.3" font-size="7.2" text-anchor="end" fill="#2a2a2a" stroke="#2a2a2a" stroke-width="0.12" transform="rotate(-45 520.5 249.3)" >Vehicle</text>
<text x="534.7" y="249.3" font-size="7.2" text-anchor="end" fill="#2a2a2a" stroke="#2a2a2a" stroke-width="0.12" transform="rotate(-45 534.7 249.3)" >ML-226</text>
<line x1="580.5" y1="168.2" x2="580.5" y2="240.8" stroke="#7a7a7a" stroke-width="0.9" />
<line x1="577.2" y1="240.8" x2="580.1" y2="240.8" stroke="#666" stroke-width="0.65" />
<text x="575.1" y="243.31" font-size="6.6" text-anchor="end" fill="#2a2a2a" stroke="#2a2a2a" stroke-width="0.12" >0</text>
<line x1="577.2" y1="204.5" x2="580.1" y2="204.5" stroke="#666" stroke-width="0.65" />
<text x="576.3" y="207.01" font-size="6.6" text-anchor="end" fill="#2a2a2a" stroke="#2a2a2a" stroke-width="0.12" ><tspan letter-spacing="0.55">1×10</tspan><tspan font-size="4.5" dy="-2.8">8</tspan></text>
<line x1="577.2" y1="168.2" x2="580.1" y2="168.2" stroke="#666" stroke-width="0.65" />
<text x="576.3" y="170.71" font-size="6.6" text-anchor="end" fill="#2a2a2a" stroke="#2a2a2a" stroke-width="0.12" ><tspan letter-spacing="0.55">2×10</tspan><tspan font-size="4.5" dy="-2.8">8</tspan></text>
<line x1="580.1" y1="240.5" x2="613" y2="240.5" stroke="#7a7a7a" stroke-width="0.9" />
<line x1="589.2" y1="240.8" x2="589.2" y2="243.2" stroke="#555" stroke-width="0.7" />
<line x1="603.2" y1="240.8" x2="603.2" y2="243.2" stroke="#555" stroke-width="0.7" />
<line x1="589.2" y1="186.71" x2="603.2" y2="202.32" stroke="#444" stroke-width="0.45" />
<line x1="589.2" y1="188.53" x2="603.2" y2="204.14" stroke="#444" stroke-width="0.45" />
<line x1="589.2" y1="190.71" x2="603.2" y2="205.95" stroke="#444" stroke-width="0.45" />
<line x1="589.2" y1="193.97" x2="603.2" y2="205.95" stroke="#444" stroke-width="0.45" />
<line x1="589.2" y1="199.06" x2="603.2" y2="210.67" stroke="#444" stroke-width="0.45" />
<circle cx="603.2" cy="202.32" r="1.85" fill="#b9dcbc" stroke="#3d4a40" stroke-width="0.55"/>
<circle cx="603.2" cy="204.14" r="1.85" fill="#b9dcbc" stroke="#3d4a40" stroke-width="0.55"/>
<circle cx="603.2" cy="205.95" r="1.85" fill="#b9dcbc" stroke="#3d4a40" stroke-width="0.55"/>
<circle cx="603.2" cy="205.95" r="1.85" fill="#b9dcbc" stroke="#3d4a40" stroke-width="0.55"/>
<circle cx="603.2" cy="210.67" r="1.85" fill="#b9dcbc" stroke="#3d4a40" stroke-width="0.55"/>
<circle cx="589.2" cy="186.71" r="1.85" fill="#8d9a9b" stroke="#333a3c" stroke-width="0.55"/>
<circle cx="589.2" cy="188.53" r="1.85" fill="#8d9a9b" stroke="#333a3c" stroke-width="0.55"/>
<circle cx="589.2" cy="190.71" r="1.85" fill="#8d9a9b" stroke="#333a3c" stroke-width="0.55"/>
<circle cx="589.2" cy="193.97" r="1.85" fill="#8d9a9b" stroke="#333a3c" stroke-width="0.55"/>
<circle cx="589.2" cy="199.06" r="1.85" fill="#8d9a9b" stroke="#333a3c" stroke-width="0.55"/>
<text x="584.2" y="169.95" font-size="5.0" fill="#3a3a3a" stroke="#3a3a3a" stroke-width="0.05"><tspan font-style="italic">p</tspan> = 0.0083</text>
<line x1="589.2" y1="170.5" x2="603.2" y2="170.5" stroke="#555" stroke-width="0.6" />
<text x="596" y="157.6" font-size="6.9" text-anchor="middle" fill="#2a2a2a" stroke="#2a2a2a" stroke-width="0.12" >Aspartate</text>
<text x="554.2" y="205" font-size="7.0" text-anchor="middle" fill="#2a2a2a" stroke="#2a2a2a" stroke-width="0.12" transform="rotate(-90 554.2 205)" >Peak area</text>
<text x="591.6" y="249.3" font-size="7.2" text-anchor="end" fill="#2a2a2a" stroke="#2a2a2a" stroke-width="0.12" transform="rotate(-45 591.6 249.3)" >Vehicle</text>
<text x="605.6" y="249.3" font-size="7.2" text-anchor="end" fill="#2a2a2a" stroke="#2a2a2a" stroke-width="0.12" transform="rotate(-45 605.6 249.3)" >ML-226</text>
<line x1="650.5" y1="168.2" x2="650.5" y2="240.8" stroke="#7a7a7a" stroke-width="0.9" />
<line x1="647.3" y1="240.8" x2="650.2" y2="240.8" stroke="#666" stroke-width="0.65" />
<text x="645.2" y="243.31" font-size="6.6" text-anchor="end" fill="#2a2a2a" stroke="#2a2a2a" stroke-width="0.12" >0</text>
<line x1="647.3" y1="204.5" x2="650.2" y2="204.5" stroke="#666" stroke-width="0.65" />
<text x="646.4" y="207.01" font-size="6.6" text-anchor="end" fill="#2a2a2a" stroke="#2a2a2a" stroke-width="0.12" ><tspan letter-spacing="0.55">1×10</tspan><tspan font-size="4.5" dy="-2.8">7</tspan></text>
<line x1="647.3" y1="168.2" x2="650.2" y2="168.2" stroke="#666" stroke-width="0.65" />
<text x="646.4" y="170.71" font-size="6.6" text-anchor="end" fill="#2a2a2a" stroke="#2a2a2a" stroke-width="0.12" ><tspan letter-spacing="0.55">2×10</tspan><tspan font-size="4.5" dy="-2.8">7</tspan></text>
<line x1="650.2" y1="240.5" x2="683" y2="240.5" stroke="#7a7a7a" stroke-width="0.9" />
<line x1="658.8" y1="240.8" x2="658.8" y2="243.2" stroke="#555" stroke-width="0.7" />
<line x1="673.2" y1="240.8" x2="673.2" y2="243.2" stroke="#555" stroke-width="0.7" />
<line x1="658.8" y1="183.45" x2="673.2" y2="195.79" stroke="#444" stroke-width="0.45" />
<line x1="658.8" y1="189.62" x2="673.2" y2="197.97" stroke="#444" stroke-width="0.45" />
<line x1="658.8" y1="191.07" x2="673.2" y2="200.51" stroke="#444" stroke-width="0.45" />
<line x1="658.8" y1="192.88" x2="673.2" y2="197.97" stroke="#444" stroke-width="0.45" />
<line x1="658.8" y1="197.97" x2="673.2" y2="202.69" stroke="#444" stroke-width="0.45" />
<circle cx="673.2" cy="195.79" r="1.85" fill="#b9dcbc" stroke="#3d4a40" stroke-width="0.55"/>
<circle cx="673.2" cy="197.97" r="1.85" fill="#b9dcbc" stroke="#3d4a40" stroke-width="0.55"/>
<circle cx="673.2" cy="200.51" r="1.85" fill="#b9dcbc" stroke="#3d4a40" stroke-width="0.55"/>
<circle cx="673.2" cy="197.97" r="1.85" fill="#b9dcbc" stroke="#3d4a40" stroke-width="0.55"/>
<circle cx="673.2" cy="202.69" r="1.85" fill="#b9dcbc" stroke="#3d4a40" stroke-width="0.55"/>
<circle cx="658.8" cy="183.45" r="1.85" fill="#8d9a9b" stroke="#333a3c" stroke-width="0.55"/>
<circle cx="658.8" cy="189.62" r="1.85" fill="#8d9a9b" stroke="#333a3c" stroke-width="0.55"/>
<circle cx="658.8" cy="191.07" r="1.85" fill="#8d9a9b" stroke="#333a3c" stroke-width="0.55"/>
<circle cx="658.8" cy="192.88" r="1.85" fill="#8d9a9b" stroke="#333a3c" stroke-width="0.55"/>
<circle cx="658.8" cy="197.97" r="1.85" fill="#8d9a9b" stroke="#333a3c" stroke-width="0.55"/>
<text x="654.3" y="169.95" font-size="5.0" fill="#3a3a3a" stroke="#3a3a3a" stroke-width="0.05"><tspan font-style="italic">p</tspan> = 0.0598</text>
<line x1="658.8" y1="170.5" x2="673.2" y2="170.5" stroke="#555" stroke-width="0.6" />
<text x="666" y="157.6" font-size="6.9" text-anchor="middle" fill="#2a2a2a" stroke="#2a2a2a" stroke-width="0.12" >Asparagine</text>
<text x="624.2" y="205" font-size="7.0" text-anchor="middle" fill="#2a2a2a" stroke="#2a2a2a" stroke-width="0.12" transform="rotate(-90 624.2 205)" >Peak area</text>
<text x="661.2" y="249.3" font-size="7.2" text-anchor="end" fill="#2a2a2a" stroke="#2a2a2a" stroke-width="0.12" transform="rotate(-45 661.2 249.3)" >Vehicle</text>
<text x="675.6" y="249.3" font-size="7.2" text-anchor="end" fill="#2a2a2a" stroke="#2a2a2a" stroke-width="0.12" transform="rotate(-45 675.6 249.3)" >ML-226</text>
<text x="337" y="297.3" font-size="14.2" text-anchor="start" fill="#000" font-weight="bold" >h</text>
<rect x="348.1" y="310.3" width="73.2" height="72" fill="none" stroke="#555" stroke-width="0.5"/>
<line x1="348.1" y1="310.3" x2="348.1" y2="382.3" stroke="#7a7a7a" stroke-width="0.7" />
<line x1="348.1" y1="382.3" x2="421.3" y2="382.3" stroke="#7a7a7a" stroke-width="0.7" />
<line x1="346.3" y1="313.6" x2="348.1" y2="313.6" stroke="#7a7a7a" stroke-width="0.5" />
<line x1="346.3" y1="327.1" x2="348.1" y2="327.1" stroke="#7a7a7a" stroke-width="0.5" />
<line x1="346.3" y1="341.2" x2="348.1" y2="341.2" stroke="#7a7a7a" stroke-width="0.5" />
<line x1="346.3" y1="354.2" x2="348.1" y2="354.2" stroke="#7a7a7a" stroke-width="0.5" />
<line x1="346.3" y1="368.4" x2="348.1" y2="368.4" stroke="#7a7a7a" stroke-width="0.5" />
<line x1="346.3" y1="382.3" x2="348.1" y2="382.3" stroke="#7a7a7a" stroke-width="0.5" />
<line x1="358" y1="382.3" x2="358" y2="383.9" stroke="#7a7a7a" stroke-width="0.5" />
<text x="358" y="390.2" font-size="5.2" text-anchor="middle" fill="#2a2a2a" stroke="#2a2a2a" stroke-width="0.12" >0</text>
<line x1="369.8" y1="382.3" x2="369.8" y2="383.9" stroke="#7a7a7a" stroke-width="0.5" />
<text x="368.6" y="390.1" font-size="5.2" text-anchor="middle" fill="#2a2a2a" stroke="#2a2a2a" stroke-width="0.08">10<tspan font-size="3.5" dy="-2.2">3</tspan></text>
<line x1="383" y1="382.3" x2="383" y2="383.9" stroke="#7a7a7a" stroke-width="0.5" />
<text x="381.8" y="390.1" font-size="5.2" text-anchor="middle" fill="#2a2a2a" stroke="#2a2a2a" stroke-width="0.08">10<tspan font-size="3.5" dy="-2.2">4</tspan></text>
<line x1="395.1" y1="382.3" x2="395.1" y2="383.9" stroke="#7a7a7a" stroke-width="0.5" />
<text x="393.9" y="390.1" font-size="5.2" text-anchor="middle" fill="#2a2a2a" stroke="#2a2a2a" stroke-width="0.08">10<tspan font-size="3.5" dy="-2.2">5</tspan></text>
<line x1="407.8" y1="382.3" x2="407.8" y2="383.9" stroke="#7a7a7a" stroke-width="0.5" />
<text x="406.6" y="390.1" font-size="5.2" text-anchor="middle" fill="#2a2a2a" stroke="#2a2a2a" stroke-width="0.08">10<tspan font-size="3.5" dy="-2.2">6</tspan></text>
<line x1="418.6" y1="382.3" x2="418.6" y2="383.9" stroke="#7a7a7a" stroke-width="0.5" />
<text x="417.4" y="390.1" font-size="5.2" text-anchor="middle" fill="#2a2a2a" stroke="#2a2a2a" stroke-width="0.08">10<tspan font-size="3.5" dy="-2.2">7</tspan></text>
<text x="349.1" y="0" font-size="1"></text>
<line x1="354.3" y1="382.3" x2="354.3" y2="384" stroke="#222" stroke-width="0.5" />
<line x1="355.2" y1="382.3" x2="355.2" y2="384" stroke="#222" stroke-width="0.5" />
<line x1="356" y1="382.3" x2="356" y2="384" stroke="#222" stroke-width="0.5" />
<line x1="356.6" y1="382.3" x2="356.6" y2="384" stroke="#222" stroke-width="0.5" />
<line x1="359.4" y1="382.3" x2="359.4" y2="384" stroke="#222" stroke-width="0.5" />
<line x1="360.3" y1="382.3" x2="360.3" y2="384" stroke="#222" stroke-width="0.5" />
<path d="M377.5,382.3 L382.0,376.4 L384.8,369.6 L387.3,360.1 L389.2,350.7 L390.9,339.8 L392.2,329 L393.2,322.2 L394.4,318.5 L395.4,317.8 L396.4,314.5 L397.3,313.8 L398.2,316.5 L399.3,317.5 L400.6,320.5 L401.4,323.5 L402.3,331 L403.0,344 L403.8,357.4 L405.2,371 L407.0,382.3 Z" fill="#cbe0cb"/>
<path d="M376.1,382.3 L380.8,376.4 L383.6,369.6 L386.3,360.1 L388.3,350.7 L390.1,339.8 L391.4,329 L392.4,322.2 L393.2,319.5 L394.1,318.1 L395.1,319.5 L396.0,316.5 L396.4,315.4 L397.2,316.8 L397.8,317.5 L399.1,318.8 L400.1,320.5 L400.9,322.9 L401.8,330.3 L402.5,343.9 L403.2,357.4 L404.6,371 L406.3,382.3 Z" fill="#a1ada9"/>
<text x="375.4" y="317.9" font-size="6.8" text-anchor="end" fill="#a1ada9" stroke="#a1ada9" stroke-width="0.12" >91569</text>
<text x="375.4" y="325.6" font-size="6.8" text-anchor="end" fill="#c2dcc2" stroke="#c2dcc2" stroke-width="0.12" >121584</text>
<text x="342.1" y="346.3" font-size="7.0" text-anchor="middle" fill="#2a2a2a" stroke="#2a2a2a" stroke-width="0.12" transform="rotate(-90 342.1 346.3)" >Events (% of max)</text>
<text x="385" y="400.8" font-size="7.0" text-anchor="middle" fill="#2a2a2a" stroke="#2a2a2a" stroke-width="0.12">MitoTracker<tspan font-size="4.4" dy="-2.4">TM</tspan><tspan dy="2.4"> - FITC</tspan></text>
<line x1="463.5" y1="310.3" x2="463.5" y2="382.3" stroke="#7a7a7a" stroke-width="0.9" />
<line x1="460.7" y1="382.3" x2="463.5" y2="382.3" stroke="#666" stroke-width="0.65" />
<text x="459.2" y="384.88" font-size="6.8" text-anchor="end" fill="#2a2a2a" stroke="#2a2a2a" stroke-width="0.12" >0</text>
<line x1="460.7" y1="358.3" x2="463.5" y2="358.3" stroke="#666" stroke-width="0.65" />
<text x="459.2" y="360.88" font-size="6.8" text-anchor="end" fill="#2a2a2a" stroke="#2a2a2a" stroke-width="0.12" >50</text>
<line x1="460.7" y1="334.3" x2="463.5" y2="334.3" stroke="#666" stroke-width="0.65" />
<text x="459.2" y="336.88" font-size="6.8" text-anchor="end" fill="#2a2a2a" stroke="#2a2a2a" stroke-width="0.12" >100</text>
<line x1="460.7" y1="310.3" x2="463.5" y2="310.3" stroke="#666" stroke-width="0.65" />
<text x="459.2" y="312.88" font-size="6.8" text-anchor="end" fill="#2a2a2a" stroke="#2a2a2a" stroke-width="0.12" >150</text>
<rect x="468.9" y="340.06" width="11.4" height="42.24" fill="#949d9e"/>
<rect x="483.7" y="333.34" width="10.9" height="48.96" fill="#bcd8c0"/>
<line x1="463.5" y1="382.5" x2="496.9" y2="382.5" stroke="#7a7a7a" stroke-width="0.9" />
<line x1="474.3" y1="382.3" x2="474.3" y2="384.7" stroke="#555" stroke-width="0.7" />
<line x1="489.1" y1="382.3" x2="489.1" y2="384.7" stroke="#555" stroke-width="0.7" />
<line x1="474.3" y1="327.87" x2="489.1" y2="323.88" stroke="#333" stroke-width="0.45" />
<line x1="474.3" y1="336.12" x2="489.1" y2="323.88" stroke="#333" stroke-width="0.45" />
<line x1="474.3" y1="337.13" x2="489.1" y2="329.64" stroke="#333" stroke-width="0.45" />
<line x1="474.3" y1="339" x2="489.1" y2="336.12" stroke="#333" stroke-width="0.45" />
<line x1="474.3" y1="346.88" x2="489.1" y2="336.12" stroke="#333" stroke-width="0.45" />
<line x1="474.3" y1="350.91" x2="489.1" y2="342.6" stroke="#333" stroke-width="0.45" />
<line x1="474.3" y1="339.82" x2="489.1" y2="342.6" stroke="#333" stroke-width="0.45" />
<circle cx="474.3" cy="327.87" r="1.85" fill="#fff" stroke="#222" stroke-width="0.55"/>
<circle cx="474.3" cy="336.12" r="1.85" fill="#fff" stroke="#222" stroke-width="0.55"/>
<circle cx="474.3" cy="337.13" r="1.85" fill="#fff" stroke="#222" stroke-width="0.55"/>
<circle cx="474.3" cy="339" r="1.85" fill="#fff" stroke="#222" stroke-width="0.55"/>
<circle cx="474.3" cy="346.88" r="1.85" fill="#fff" stroke="#222" stroke-width="0.55"/>
<circle cx="474.3" cy="350.91" r="1.85" fill="#fff" stroke="#222" stroke-width="0.55"/>
<circle cx="474.3" cy="339.82" r="1.85" fill="#fff" stroke="#222" stroke-width="0.55"/>
<circle cx="489.1" cy="323.88" r="1.85" fill="#fff" stroke="#222" stroke-width="0.55"/>
<circle cx="489.1" cy="323.88" r="1.85" fill="#fff" stroke="#222" stroke-width="0.55"/>
<circle cx="489.1" cy="329.64" r="1.85" fill="#fff" stroke="#222" stroke-width="0.55"/>
<circle cx="489.1" cy="336.12" r="1.85" fill="#fff" stroke="#222" stroke-width="0.55"/>
<circle cx="489.1" cy="336.12" r="1.85" fill="#fff" stroke="#222" stroke-width="0.55"/>
<circle cx="489.1" cy="342.6" r="1.85" fill="#fff" stroke="#222" stroke-width="0.55"/>
<circle cx="489.1" cy="342.6" r="1.85" fill="#fff" stroke="#222" stroke-width="0.55"/>
<text x="469.8" y="312.05" font-size="5.0" fill="#3a3a3a" stroke="#3a3a3a" stroke-width="0.05"><tspan font-style="italic">p</tspan> = 0.0507</text>
<line x1="474.3" y1="313.5" x2="489.1" y2="313.5" stroke="#555" stroke-width="0.6" />
<text x="436.6" y="346" font-size="7.1" text-anchor="middle" fill="#2a2a2a" stroke="#2a2a2a" stroke-width="0.12" transform="rotate(-90 436.6 346)" >MitoTracker Green</text>
<text x="443.9" y="345.6" font-size="7.1" text-anchor="middle" fill="#2a2a2a" stroke="#2a2a2a" stroke-width="0.12" transform="rotate(-90 443.9 345.6)">MFI (x10<tspan font-size="4.8" dy="-2.6">3</tspan><tspan dy="2.6">)</tspan></text>
<text x="476.7" y="390.8" font-size="7.2" text-anchor="end" fill="#2a2a2a" stroke="#2a2a2a" stroke-width="0.12" transform="rotate(-45 476.7 390.8)" >Vehicle</text>
<text x="491.5" y="390.8" font-size="7.2" text-anchor="end" fill="#2a2a2a" stroke="#2a2a2a" stroke-width="0.12" transform="rotate(-45 491.5 390.8)" >ML-226</text>
<text x="537.4" y="297.3" font-size="14.2" text-anchor="start" fill="#000" font-weight="bold" >i</text>
<rect x="551.7" y="310" width="72.9" height="72.2" fill="none" stroke="#555" stroke-width="0.5"/>
<line x1="551.7" y1="310" x2="551.7" y2="382.2" stroke="#7a7a7a" stroke-width="0.7" />
<line x1="551.7" y1="382.2" x2="624.6" y2="382.2" stroke="#7a7a7a" stroke-width="0.7" />
<line x1="549.9" y1="313.3" x2="551.7" y2="313.3" stroke="#7a7a7a" stroke-width="0.5" />
<line x1="549.9" y1="326.8" x2="551.7" y2="326.8" stroke="#7a7a7a" stroke-width="0.5" />
<line x1="549.9" y1="340.9" x2="551.7" y2="340.9" stroke="#7a7a7a" stroke-width="0.5" />
<line x1="549.9" y1="354" x2="551.7" y2="354" stroke="#7a7a7a" stroke-width="0.5" />
<line x1="549.9" y1="368.2" x2="551.7" y2="368.2" stroke="#7a7a7a" stroke-width="0.5" />
<line x1="549.9" y1="382.2" x2="551.7" y2="382.2" stroke="#7a7a7a" stroke-width="0.5" />
<line x1="564.8" y1="382.2" x2="564.8" y2="383.8" stroke="#7a7a7a" stroke-width="0.5" />
<text x="564.8" y="390.1" font-size="5.2" text-anchor="middle" fill="#2a2a2a" stroke="#2a2a2a" stroke-width="0.12" >0</text>
<line x1="584.3" y1="382.2" x2="584.3" y2="383.8" stroke="#7a7a7a" stroke-width="0.5" />
<text x="583.1" y="390" font-size="5.2" text-anchor="middle" fill="#2a2a2a" stroke="#2a2a2a" stroke-width="0.08">10<tspan font-size="3.5" dy="-2.2">3</tspan></text>
<line x1="603.6" y1="382.2" x2="603.6" y2="383.8" stroke="#7a7a7a" stroke-width="0.5" />
<text x="602.4" y="390" font-size="5.2" text-anchor="middle" fill="#2a2a2a" stroke="#2a2a2a" stroke-width="0.08">10<tspan font-size="3.5" dy="-2.2">4</tspan></text>
<line x1="622.2" y1="382.2" x2="622.2" y2="383.8" stroke="#7a7a7a" stroke-width="0.5" />
<text x="621" y="390" font-size="5.2" text-anchor="middle" fill="#2a2a2a" stroke="#2a2a2a" stroke-width="0.08">10<tspan font-size="3.5" dy="-2.2">5</tspan></text>
<text x="552.7" y="0" font-size="1"></text>
<line x1="561.3" y1="382.2" x2="561.3" y2="383.9" stroke="#222" stroke-width="0.5" />
<line x1="562.2" y1="382.2" x2="562.2" y2="383.9" stroke="#222" stroke-width="0.5" />
<line x1="563" y1="382.2" x2="563" y2="383.9" stroke="#222" stroke-width="0.5" />
<line x1="563.6" y1="382.2" x2="563.6" y2="383.9" stroke="#222" stroke-width="0.5" />
<line x1="566.2" y1="382.2" x2="566.2" y2="383.9" stroke="#222" stroke-width="0.5" />
<line x1="567.1" y1="382.2" x2="567.1" y2="383.9" stroke="#222" stroke-width="0.5" />
<path d="M558.1,382.2 L561,371 L563,350.7 L564.4,331.7 L565.8,320.8 L567.2,318.5 L568.9,320.2 L570.3,318.1 L571.6,320.8 L573,318.8 L574.4,322.2 L576.4,326.3 L578.4,327.6 L580.5,333 L582.5,335.7 L583.8,335.1 L585.2,339.8 L587.2,342.5 L589.3,347.9 L591.3,350.7 L593.3,356.1 L595.4,361.5 L597.4,368.3 L599.4,376.4 L601.5,380.5 L603.5,382.2 Z" fill="#cbe0cb"/>
<path d="M557.4,382.2 L560.1,371 L562.2,350.7 L563.5,331.7 L564.9,320.8 L566.2,317.5 L567.6,320.8 L568.9,324.9 L571,331.7 L573,341.2 L575,347.9 L577.1,354.7 L579.1,360.1 L581.8,364.2 L585.2,365.6 L587.9,369.6 L591.3,375 L595.4,379.8 L599.4,382.2 Z" fill="#a1ada9"/>
<text x="622" y="318.6" font-size="6.8" text-anchor="end" fill="#a1ada9" stroke="#a1ada9" stroke-width="0.12" >206</text>
<text x="622" y="325.2" font-size="6.8" text-anchor="end" fill="#c2dcc2" stroke="#c2dcc2" stroke-width="0.12" >480</text>
<text x="543.8" y="346.3" font-size="7.0" text-anchor="middle" fill="#2a2a2a" stroke="#2a2a2a" stroke-width="0.12" transform="rotate(-90 543.8 346.3)" >Events (% of max)</text>
<text x="588" y="400.8" font-size="7.0" text-anchor="middle" fill="#2a2a2a" stroke="#2a2a2a" stroke-width="0.12">MitoSOX<tspan font-size="4.4" dy="-2.4">TM</tspan><tspan dy="2.4"> - PE</tspan></text>
<line x1="652.5" y1="309.9" x2="652.5" y2="382.2" stroke="#7a7a7a" stroke-width="0.9" />
<line x1="649.3" y1="382.2" x2="652.1" y2="382.2" stroke="#666" stroke-width="0.65" />
<text x="647.8" y="384.78" font-size="6.8" text-anchor="end" fill="#2a2a2a" stroke="#2a2a2a" stroke-width="0.12" >0</text>
<line x1="649.3" y1="358.1" x2="652.1" y2="358.1" stroke="#666" stroke-width="0.65" />
<text x="647.8" y="360.68" font-size="6.8" text-anchor="end" fill="#2a2a2a" stroke="#2a2a2a" stroke-width="0.12" >2</text>
<line x1="649.3" y1="334" x2="652.1" y2="334" stroke="#666" stroke-width="0.65" />
<text x="647.8" y="336.58" font-size="6.8" text-anchor="end" fill="#2a2a2a" stroke="#2a2a2a" stroke-width="0.12" >4</text>
<line x1="649.3" y1="309.9" x2="652.1" y2="309.9" stroke="#666" stroke-width="0.65" />
<text x="647.8" y="312.48" font-size="6.8" text-anchor="end" fill="#2a2a2a" stroke="#2a2a2a" stroke-width="0.12" >6</text>
<rect x="656.3" y="376.78" width="10.8" height="5.42" fill="#949d9e"/>
<rect x="670.2" y="361.96" width="10.8" height="20.24" fill="#bcd8c0"/>
<line x1="652.1" y1="382.5" x2="682.8" y2="382.5" stroke="#7a7a7a" stroke-width="0.9" />
<line x1="661.1" y1="382.2" x2="661.1" y2="384.6" stroke="#555" stroke-width="0.7" />
<line x1="675.6" y1="382.2" x2="675.6" y2="384.6" stroke="#555" stroke-width="0.7" />
<line x1="661.1" y1="369.19" x2="675.6" y2="320.38" stroke="#333" stroke-width="0.45" />
<line x1="661.1" y1="372.32" x2="675.6" y2="358.58" stroke="#333" stroke-width="0.45" />
<line x1="661.1" y1="378.58" x2="675.6" y2="373.16" stroke="#333" stroke-width="0.45" />
<line x1="661.1" y1="379.55" x2="675.6" y2="375.93" stroke="#333" stroke-width="0.45" />
<line x1="661.1" y1="379.79" x2="675.6" y2="379.55" stroke="#333" stroke-width="0.45" />
<circle cx="661.1" cy="369.19" r="1.85" fill="#fff" stroke="#222" stroke-width="0.55"/>
<circle cx="661.1" cy="372.32" r="1.85" fill="#fff" stroke="#222" stroke-width="0.55"/>
<circle cx="661.1" cy="378.58" r="1.85" fill="#fff" stroke="#222" stroke-width="0.55"/>
<circle cx="661.1" cy="379.55" r="1.85" fill="#fff" stroke="#222" stroke-width="0.55"/>
<circle cx="661.1" cy="379.79" r="1.85" fill="#fff" stroke="#222" stroke-width="0.55"/>
<circle cx="675.6" cy="320.38" r="1.85" fill="#fff" stroke="#222" stroke-width="0.55"/>
<circle cx="675.6" cy="358.58" r="1.85" fill="#fff" stroke="#222" stroke-width="0.55"/>
<circle cx="675.6" cy="373.16" r="1.85" fill="#fff" stroke="#222" stroke-width="0.55"/>
<circle cx="675.6" cy="375.93" r="1.85" fill="#fff" stroke="#222" stroke-width="0.55"/>
<circle cx="675.6" cy="379.55" r="1.85" fill="#fff" stroke="#222" stroke-width="0.55"/>
<text x="639.9" y="345.8" font-size="7.1" text-anchor="middle" fill="#2a2a2a" stroke="#2a2a2a" stroke-width="0.12" transform="rotate(-90 639.9 345.8)">MitoSOX MFI (x10<tspan font-size="4.8" dy="-2.6">3</tspan><tspan dy="2.6">)</tspan></text>
<text x="663.5" y="390.7" font-size="7.2" text-anchor="end" fill="#2a2a2a" stroke="#2a2a2a" stroke-width="0.12" transform="rotate(-45 663.5 390.7)" >Vehicle</text>
<text x="678" y="390.7" font-size="7.2" text-anchor="end" fill="#2a2a2a" stroke="#2a2a2a" stroke-width="0.12" transform="rotate(-45 678 390.7)" >ML-226</text>
<text x="2.2" y="441.8" font-size="14.2" text-anchor="start" fill="#000" font-weight="bold" >j</text>
<line x1="31.5" y1="454.5" x2="31.5" y2="527.4" stroke="#7a7a7a" stroke-width="0.9" />
<line x1="28.4" y1="527.4" x2="31.2" y2="527.4" stroke="#666" stroke-width="0.65" />
<text x="26.9" y="529.98" font-size="6.8" text-anchor="end" fill="#2a2a2a" stroke="#2a2a2a" stroke-width="0.12" >0</text>
<line x1="28.4" y1="503.1" x2="31.2" y2="503.1" stroke="#666" stroke-width="0.65" />
<text x="26.9" y="505.68" font-size="6.8" text-anchor="end" fill="#2a2a2a" stroke="#2a2a2a" stroke-width="0.12" >50</text>
<line x1="28.4" y1="478.8" x2="31.2" y2="478.8" stroke="#666" stroke-width="0.65" />
<text x="26.9" y="481.38" font-size="6.8" text-anchor="end" fill="#2a2a2a" stroke="#2a2a2a" stroke-width="0.12" >100</text>
<line x1="28.4" y1="454.5" x2="31.2" y2="454.5" stroke="#666" stroke-width="0.65" />
<text x="26.9" y="457.08" font-size="6.8" text-anchor="end" fill="#2a2a2a" stroke="#2a2a2a" stroke-width="0.12" >150</text>
<line x1="31.2" y1="527.5" x2="125.3" y2="527.5" stroke="#7a7a7a" stroke-width="0.9" />
<line x1="31.2" y1="527.4" x2="31.2" y2="529.8" stroke="#555" stroke-width="0.7" />
<line x1="50.02" y1="527.4" x2="50.02" y2="529.8" stroke="#555" stroke-width="0.7" />
<line x1="68.84" y1="527.4" x2="68.84" y2="529.8" stroke="#555" stroke-width="0.7" />
<line x1="87.66" y1="527.4" x2="87.66" y2="529.8" stroke="#555" stroke-width="0.7" />
<line x1="106.48" y1="527.4" x2="106.48" y2="529.8" stroke="#555" stroke-width="0.7" />
<line x1="125.3" y1="527.4" x2="125.3" y2="529.8" stroke="#555" stroke-width="0.7" />
<text x="31.2" y="537.9" font-size="6.8" text-anchor="middle" fill="#2a2a2a" stroke="#2a2a2a" stroke-width="0.12" >0</text>
<text x="50.02" y="537.9" font-size="6.8" text-anchor="middle" fill="#2a2a2a" stroke="#2a2a2a" stroke-width="0.12" >20</text>
<text x="68.84" y="537.9" font-size="6.8" text-anchor="middle" fill="#2a2a2a" stroke="#2a2a2a" stroke-width="0.12" >40</text>
<text x="87.66" y="537.9" font-size="6.8" text-anchor="middle" fill="#2a2a2a" stroke="#2a2a2a" stroke-width="0.12" >60</text>
<text x="106.48" y="537.9" font-size="6.8" text-anchor="middle" fill="#2a2a2a" stroke="#2a2a2a" stroke-width="0.12" >80</text>
<text x="125.3" y="537.9" font-size="6.8" text-anchor="middle" fill="#2a2a2a" stroke="#2a2a2a" stroke-width="0.12" >100</text>
<text x="78" y="547.7" font-size="7.0" text-anchor="middle" fill="#2a2a2a" stroke="#2a2a2a" stroke-width="0.12" >Time (min)</text>
<text x="12" y="491" font-size="7.0" text-anchor="middle" fill="#2a2a2a" stroke="#2a2a2a" stroke-width="0.12" transform="rotate(-90 12 491)" >ECAR (mpH/min)</text>
<line x1="46.5" y1="454.8" x2="46.5" y2="527.4" stroke="#444" stroke-width="0.7" stroke-dasharray="0.9,1.3"/>
<text x="46.6" y="453.5" font-size="6.2" text-anchor="middle" fill="#2a2a2a" stroke="#2a2a2a" stroke-width="0.12" font-style="italic" >O</text>
<line x1="65.5" y1="454.8" x2="65.5" y2="527.4" stroke="#444" stroke-width="0.7" stroke-dasharray="0.9,1.3"/>
<text x="65.2" y="453.5" font-size="6.2" text-anchor="middle" fill="#2a2a2a" stroke="#2a2a2a" stroke-width="0.12" font-style="italic" >F</text>
<line x1="83.5" y1="454.8" x2="83.5" y2="527.4" stroke="#444" stroke-width="0.7" stroke-dasharray="0.9,1.3"/>
<text x="83.3" y="453.5" font-size="6.2" text-anchor="middle" fill="#2a2a2a" stroke="#2a2a2a" stroke-width="0.12" font-style="italic" >R/A</text>
<line x1="102.5" y1="454.8" x2="102.5" y2="527.4" stroke="#444" stroke-width="0.7" stroke-dasharray="0.9,1.3"/>
<text x="102.3" y="453.5" font-size="6.2" text-anchor="middle" fill="#2a2a2a" stroke="#2a2a2a" stroke-width="0.12" font-style="italic" >M</text>
<line x1="32.3" y1="490.7" x2="32.3" y2="493.9" stroke="#444" stroke-width="0.5" />
<line x1="30.8" y1="490.7" x2="33.8" y2="490.7" stroke="#444" stroke-width="0.5" />
<line x1="38.46" y1="490.7" x2="38.46" y2="493.9" stroke="#444" stroke-width="0.5" />
<line x1="36.96" y1="490.7" x2="39.96" y2="490.7" stroke="#444" stroke-width="0.5" />
<line x1="44.62" y1="490.7" x2="44.62" y2="493.9" stroke="#444" stroke-width="0.5" />
<line x1="43.12" y1="490.7" x2="46.12" y2="490.7" stroke="#444" stroke-width="0.5" />
<line x1="69.26" y1="478.1" x2="69.26" y2="481.6" stroke="#444" stroke-width="0.5" />
<line x1="67.76" y1="478.1" x2="70.76" y2="478.1" stroke="#444" stroke-width="0.5" />
<polyline points="32.3,497.5 38.46,497.5 44.62,497.5 50.78,488.5 56.94,488 63.1,487.4 69.26,486.7 75.42,488 81.58,488.5 87.74,489.2 93.9,490.3 100.06,490.7 106.22,488 112.38,488.5 118.54,488.5" fill="none" stroke="#666" stroke-width="0.6"/>
<polyline points="32.3,493.9 38.46,493.9 44.62,493.9 50.78,483.8 56.94,483.1 63.1,482.9 69.26,481.6 75.42,483.1 81.58,483.8 87.74,484.9 93.9,485.6 100.06,486.1 106.22,483.4 112.38,484.3 118.54,484.9" fill="none" stroke="#444" stroke-width="0.6"/>
<circle cx="32.3" cy="497.5" r="2.3" fill="#b9dcbc" stroke="#555" stroke-width="0.5"/>
<circle cx="38.46" cy="497.5" r="2.3" fill="#b9dcbc" stroke="#555" stroke-width="0.5"/>
<circle cx="44.62" cy="497.5" r="2.3" fill="#b9dcbc" stroke="#555" stroke-width="0.5"/>
<circle cx="50.78" cy="488.5" r="2.3" fill="#b9dcbc" stroke="#555" stroke-width="0.5"/>
<circle cx="56.94" cy="488" r="2.3" fill="#b9dcbc" stroke="#555" stroke-width="0.5"/>
<circle cx="63.1" cy="487.4" r="2.3" fill="#b9dcbc" stroke="#555" stroke-width="0.5"/>
<circle cx="69.26" cy="486.7" r="2.3" fill="#b9dcbc" stroke="#555" stroke-width="0.5"/>
<circle cx="75.42" cy="488" r="2.3" fill="#b9dcbc" stroke="#555" stroke-width="0.5"/>
<circle cx="81.58" cy="488.5" r="2.3" fill="#b9dcbc" stroke="#555" stroke-width="0.5"/>
<circle cx="87.74" cy="489.2" r="2.3" fill="#b9dcbc" stroke="#555" stroke-width="0.5"/>
<circle cx="93.9" cy="490.3" r="2.3" fill="#b9dcbc" stroke="#555" stroke-width="0.5"/>
<circle cx="100.06" cy="490.7" r="2.3" fill="#b9dcbc" stroke="#555" stroke-width="0.5"/>
<circle cx="106.22" cy="488" r="2.3" fill="#b9dcbc" stroke="#555" stroke-width="0.5"/>
<circle cx="112.38" cy="488.5" r="2.3" fill="#b9dcbc" stroke="#555" stroke-width="0.5"/>
<circle cx="118.54" cy="488.5" r="2.3" fill="#b9dcbc" stroke="#555" stroke-width="0.5"/>
<circle cx="32.3" cy="493.9" r="2.3" fill="#8d9a9b" stroke="#444" stroke-width="0.5"/>
<circle cx="38.46" cy="493.9" r="2.3" fill="#8d9a9b" stroke="#444" stroke-width="0.5"/>
<circle cx="44.62" cy="493.9" r="2.3" fill="#8d9a9b" stroke="#444" stroke-width="0.5"/>
<circle cx="50.78" cy="483.8" r="2.3" fill="#8d9a9b" stroke="#444" stroke-width="0.5"/>
<circle cx="56.94" cy="483.1" r="2.3" fill="#8d9a9b" stroke="#444" stroke-width="0.5"/>
<circle cx="63.1" cy="482.9" r="2.3" fill="#8d9a9b" stroke="#444" stroke-width="0.5"/>
<circle cx="69.26" cy="481.6" r="2.3" fill="#8d9a9b" stroke="#444" stroke-width="0.5"/>
<circle cx="75.42" cy="483.1" r="2.3" fill="#8d9a9b" stroke="#444" stroke-width="0.5"/>
<circle cx="81.58" cy="483.8" r="2.3" fill="#8d9a9b" stroke="#444" stroke-width="0.5"/>
<circle cx="87.74" cy="484.9" r="2.3" fill="#8d9a9b" stroke="#444" stroke-width="0.5"/>
<circle cx="93.9" cy="485.6" r="2.3" fill="#8d9a9b" stroke="#444" stroke-width="0.5"/>
<circle cx="100.06" cy="486.1" r="2.3" fill="#8d9a9b" stroke="#444" stroke-width="0.5"/>
<circle cx="106.22" cy="483.4" r="2.3" fill="#8d9a9b" stroke="#444" stroke-width="0.5"/>
<circle cx="112.38" cy="484.3" r="2.3" fill="#8d9a9b" stroke="#444" stroke-width="0.5"/>
<circle cx="118.54" cy="484.9" r="2.3" fill="#8d9a9b" stroke="#444" stroke-width="0.5"/>
<line x1="114.6" y1="459" x2="122.6" y2="459" stroke="#444" stroke-width="0.6" />
<line x1="114.6" y1="469" x2="122.6" y2="469" stroke="#555" stroke-width="0.6" />
<circle cx="118.8" cy="459" r="2.7" fill="#8d9a9b" stroke="#333" stroke-width="0.6"/>
<circle cx="118.8" cy="469" r="2.7" fill="#b9dcbc" stroke="#444" stroke-width="0.6"/>
<text x="126.8" y="461.5" font-size="6.2" text-anchor="start" fill="#2a2a2a" stroke="#2a2a2a" stroke-width="0.12" >Vehicle</text>
<text x="126.8" y="471.5" font-size="6.2" text-anchor="start" fill="#2a2a2a" stroke="#2a2a2a" stroke-width="0.12" >ML-226</text>
<text x="167" y="441.8" font-size="14.2" text-anchor="start" fill="#000" font-weight="bold" >k</text>
<line x1="201.5" y1="454.3" x2="201.5" y2="526.9" stroke="#7a7a7a" stroke-width="0.9" />
<line x1="198.4" y1="526.9" x2="201.2" y2="526.9" stroke="#666" stroke-width="0.65" />
<text x="196.9" y="529.48" font-size="6.8" text-anchor="end" fill="#2a2a2a" stroke="#2a2a2a" stroke-width="0.12" >0</text>
<line x1="198.4" y1="508.75" x2="201.2" y2="508.75" stroke="#666" stroke-width="0.65" />
<text x="196.9" y="511.33" font-size="6.8" text-anchor="end" fill="#2a2a2a" stroke="#2a2a2a" stroke-width="0.12" >25</text>
<line x1="198.4" y1="490.6" x2="201.2" y2="490.6" stroke="#666" stroke-width="0.65" />
<text x="196.9" y="493.18" font-size="6.8" text-anchor="end" fill="#2a2a2a" stroke="#2a2a2a" stroke-width="0.12" >50</text>
<line x1="198.4" y1="472.45" x2="201.2" y2="472.45" stroke="#666" stroke-width="0.65" />
<text x="196.9" y="475.03" font-size="6.8" text-anchor="end" fill="#2a2a2a" stroke="#2a2a2a" stroke-width="0.12" >75</text>
<line x1="198.4" y1="454.3" x2="201.2" y2="454.3" stroke="#666" stroke-width="0.65" />
<text x="196.9" y="456.88" font-size="6.8" text-anchor="end" fill="#2a2a2a" stroke="#2a2a2a" stroke-width="0.12" >100</text>
<rect x="205.3" y="476.95" width="10.3" height="49.95" fill="#949d9e"/>
<rect x="219.3" y="481.16" width="10.6" height="45.74" fill="#bcd8c0"/>
<line x1="201.2" y1="526.5" x2="233.4" y2="526.5" stroke="#7a7a7a" stroke-width="0.9" />
<line x1="210.2" y1="526.9" x2="210.2" y2="529.3" stroke="#555" stroke-width="0.7" />
<line x1="224.5" y1="526.9" x2="224.5" y2="529.3" stroke="#555" stroke-width="0.7" />
<line x1="210.2" y1="467.59" x2="224.5" y2="473.32" stroke="#333" stroke-width="0.45" />
<line x1="210.2" y1="476.81" x2="224.5" y2="482.98" stroke="#333" stroke-width="0.45" />
<line x1="210.2" y1="482.98" x2="224.5" y2="485.88" stroke="#333" stroke-width="0.45" />
<line x1="210.2" y1="489.73" x2="224.5" y2="489.51" stroke="#333" stroke-width="0.45" />
<circle cx="210.2" cy="467.59" r="1.85" fill="#fff" stroke="#222" stroke-width="0.55"/>
<circle cx="210.2" cy="476.81" r="1.85" fill="#fff" stroke="#222" stroke-width="0.55"/>
<circle cx="210.2" cy="482.98" r="1.85" fill="#fff" stroke="#222" stroke-width="0.55"/>
<circle cx="210.2" cy="489.73" r="1.85" fill="#fff" stroke="#222" stroke-width="0.55"/>
<circle cx="224.5" cy="473.32" r="1.85" fill="#fff" stroke="#222" stroke-width="0.55"/>
<circle cx="224.5" cy="482.98" r="1.85" fill="#fff" stroke="#222" stroke-width="0.55"/>
<circle cx="224.5" cy="485.88" r="1.85" fill="#fff" stroke="#222" stroke-width="0.55"/>
<circle cx="224.5" cy="489.51" r="1.85" fill="#fff" stroke="#222" stroke-width="0.55"/>
<text x="217.4" y="437.6" font-size="7.0" text-anchor="middle" fill="#2a2a2a" stroke="#2a2a2a" stroke-width="0.12" >Basal</text>
<text x="217.4" y="445.7" font-size="7.0" text-anchor="middle" fill="#2a2a2a" stroke="#2a2a2a" stroke-width="0.12" >Glycolysis</text>
<text x="182.6" y="490.6" font-size="7.0" text-anchor="middle" fill="#2a2a2a" stroke="#2a2a2a" stroke-width="0.12" transform="rotate(-90 182.6 490.6)" >ECAR (mpH/min)</text>
<text x="205.2" y="456.05" font-size="5.0" fill="#3a3a3a" stroke="#3a3a3a" stroke-width="0.05"><tspan font-style="italic">p</tspan> = 0.0052</text>
<line x1="210.2" y1="457.5" x2="224.5" y2="457.5" stroke="#555" stroke-width="0.6" />
<text x="212.6" y="535.4" font-size="7.2" text-anchor="end" fill="#2a2a2a" stroke="#2a2a2a" stroke-width="0.12" transform="rotate(-45 212.6 535.4)" >Vehicle</text>
<text x="226.9" y="535.4" font-size="7.2" text-anchor="end" fill="#2a2a2a" stroke="#2a2a2a" stroke-width="0.12" transform="rotate(-45 226.9 535.4)" >ML-226</text>
<line x1="269.5" y1="454.3" x2="269.5" y2="526.7" stroke="#7a7a7a" stroke-width="0.9" />
<line x1="266.5" y1="526.7" x2="269.3" y2="526.7" stroke="#666" stroke-width="0.65" />
<text x="265" y="529.28" font-size="6.8" text-anchor="end" fill="#2a2a2a" stroke="#2a2a2a" stroke-width="0.12" >0</text>
<line x1="266.5" y1="508.6" x2="269.3" y2="508.6" stroke="#666" stroke-width="0.65" />
<text x="265" y="511.18" font-size="6.8" text-anchor="end" fill="#2a2a2a" stroke="#2a2a2a" stroke-width="0.12" >30</text>
<line x1="266.5" y1="490.5" x2="269.3" y2="490.5" stroke="#666" stroke-width="0.65" />
<text x="265" y="493.08" font-size="6.8" text-anchor="end" fill="#2a2a2a" stroke="#2a2a2a" stroke-width="0.12" >60</text>
<line x1="266.5" y1="472.4" x2="269.3" y2="472.4" stroke="#666" stroke-width="0.65" />
<text x="265" y="474.98" font-size="6.8" text-anchor="end" fill="#2a2a2a" stroke="#2a2a2a" stroke-width="0.12" >90</text>
<line x1="266.5" y1="454.3" x2="269.3" y2="454.3" stroke="#666" stroke-width="0.65" />
<text x="265" y="456.88" font-size="6.8" text-anchor="end" fill="#2a2a2a" stroke="#2a2a2a" stroke-width="0.12" >120</text>
<rect x="273.1" y="473.79" width="10.5" height="52.91" fill="#949d9e"/>
<rect x="287.1" y="478.19" width="10.6" height="48.51" fill="#bcd8c0"/>
<line x1="269.3" y1="526.5" x2="301.2" y2="526.5" stroke="#7a7a7a" stroke-width="0.9" />
<line x1="278" y1="526.7" x2="278" y2="529.1" stroke="#555" stroke-width="0.7" />
<line x1="292.6" y1="526.7" x2="292.6" y2="529.1" stroke="#555" stroke-width="0.7" />
<line x1="278" y1="467.57" x2="292.6" y2="474.69" stroke="#333" stroke-width="0.45" />
<line x1="278" y1="468.96" x2="292.6" y2="476.44" stroke="#333" stroke-width="0.45" />
<line x1="278" y1="471.19" x2="292.6" y2="478.13" stroke="#333" stroke-width="0.45" />
<line x1="278" y1="475.12" x2="292.6" y2="476.44" stroke="#333" stroke-width="0.45" />
<line x1="278" y1="481.45" x2="292.6" y2="482.05" stroke="#333" stroke-width="0.45" />
<circle cx="278" cy="467.57" r="1.85" fill="#fff" stroke="#222" stroke-width="0.55"/>
<circle cx="278" cy="468.96" r="1.85" fill="#fff" stroke="#222" stroke-width="0.55"/>
<circle cx="278" cy="471.19" r="1.85" fill="#fff" stroke="#222" stroke-width="0.55"/>
<circle cx="278" cy="475.12" r="1.85" fill="#fff" stroke="#222" stroke-width="0.55"/>
<circle cx="278" cy="481.45" r="1.85" fill="#fff" stroke="#222" stroke-width="0.55"/>
<circle cx="292.6" cy="474.69" r="1.85" fill="#fff" stroke="#222" stroke-width="0.55"/>
<circle cx="292.6" cy="476.44" r="1.85" fill="#fff" stroke="#222" stroke-width="0.55"/>
<circle cx="292.6" cy="478.13" r="1.85" fill="#fff" stroke="#222" stroke-width="0.55"/>
<circle cx="292.6" cy="476.44" r="1.85" fill="#fff" stroke="#222" stroke-width="0.55"/>
<circle cx="292.6" cy="482.05" r="1.85" fill="#fff" stroke="#222" stroke-width="0.55"/>
<text x="285.3" y="437.6" font-size="7.0" text-anchor="middle" fill="#2a2a2a" stroke="#2a2a2a" stroke-width="0.12" >Maximal</text>
<text x="285.3" y="445.7" font-size="7.0" text-anchor="middle" fill="#2a2a2a" stroke="#2a2a2a" stroke-width="0.12" >Glycolysis</text>
<text x="252.3" y="490.5" font-size="7.0" text-anchor="middle" fill="#2a2a2a" stroke="#2a2a2a" stroke-width="0.12" transform="rotate(-90 252.3 490.5)" >ECAR (mpH/min)</text>
<text x="273" y="456.05" font-size="5.0" fill="#3a3a3a" stroke="#3a3a3a" stroke-width="0.05"><tspan font-style="italic">p</tspan> = 0.0242</text>
<line x1="278" y1="457.5" x2="292.6" y2="457.5" stroke="#555" stroke-width="0.6" />
<text x="280.4" y="535.2" font-size="7.2" text-anchor="end" fill="#2a2a2a" stroke="#2a2a2a" stroke-width="0.12" transform="rotate(-45 280.4 535.2)" >Vehicle</text>
<text x="295" y="535.2" font-size="7.2" text-anchor="end" fill="#2a2a2a" stroke="#2a2a2a" stroke-width="0.12" transform="rotate(-45 295 535.2)" >ML-226</text>
<text x="339.4" y="441.8" font-size="14.2" text-anchor="start" fill="#000" font-weight="bold" >l</text>
<line x1="374.5" y1="454.1" x2="374.5" y2="527.2" stroke="#7a7a7a" stroke-width="0.9" />
<line x1="371.5" y1="527.2" x2="374.3" y2="527.2" stroke="#666" stroke-width="0.65" />
<text x="370" y="529.78" font-size="6.8" text-anchor="end" fill="#2a2a2a" stroke="#2a2a2a" stroke-width="0.12" >0</text>
<line x1="371.5" y1="502.83" x2="374.3" y2="502.83" stroke="#666" stroke-width="0.65" />
<text x="370" y="505.42" font-size="6.8" text-anchor="end" fill="#2a2a2a" stroke="#2a2a2a" stroke-width="0.12" >500</text>
<line x1="371.5" y1="478.47" x2="374.3" y2="478.47" stroke="#666" stroke-width="0.65" />
<text x="370" y="481.05" font-size="6.8" text-anchor="end" fill="#2a2a2a" stroke="#2a2a2a" stroke-width="0.12" >1000</text>
<line x1="371.5" y1="454.1" x2="374.3" y2="454.1" stroke="#666" stroke-width="0.65" />
<text x="370" y="456.68" font-size="6.8" text-anchor="end" fill="#2a2a2a" stroke="#2a2a2a" stroke-width="0.12" >1500</text>
<line x1="374.3" y1="527.2" x2="423" y2="527.2" stroke="#7a7a7a" stroke-width="0.9" />
<line x1="386.2" y1="527.2" x2="386.2" y2="529.4" stroke="#7a7a7a" stroke-width="0.9" />
<line x1="411" y1="527.2" x2="411" y2="529.4" stroke="#7a7a7a" stroke-width="0.9" />
<rect x="377.4" y="495.43" width="8.3" height="31.77" fill="#949d9e"/>
<rect x="388" y="497.72" width="8.2" height="29.48" fill="#bcd8c0"/>
<rect x="401.8" y="483.83" width="8.1" height="43.37" fill="#949d9e"/>
<rect x="412.3" y="487.48" width="8.1" height="39.72" fill="#bcd8c0"/>
<line x1="381.4" y1="487.97" x2="392.3" y2="492.21" stroke="#333" stroke-width="0.45" />
<line x1="381.4" y1="496.74" x2="392.3" y2="500.88" stroke="#333" stroke-width="0.45" />
<line x1="381.4" y1="500.15" x2="392.3" y2="502.83" stroke="#333" stroke-width="0.45" />
<line x1="381.4" y1="504.05" x2="392.3" y2="504.05" stroke="#333" stroke-width="0.45" />
<circle cx="381.4" cy="487.97" r="1.85" fill="#fff" stroke="#222" stroke-width="0.55"/>
<circle cx="392.3" cy="492.21" r="1.85" fill="#fff" stroke="#222" stroke-width="0.55"/>
<circle cx="381.4" cy="496.74" r="1.85" fill="#fff" stroke="#222" stroke-width="0.55"/>
<circle cx="392.3" cy="500.88" r="1.85" fill="#fff" stroke="#222" stroke-width="0.55"/>
<circle cx="381.4" cy="500.15" r="1.85" fill="#fff" stroke="#222" stroke-width="0.55"/>
<circle cx="392.3" cy="502.83" r="1.85" fill="#fff" stroke="#222" stroke-width="0.55"/>
<circle cx="381.4" cy="504.05" r="1.85" fill="#fff" stroke="#222" stroke-width="0.55"/>
<circle cx="392.3" cy="504.05" r="1.85" fill="#fff" stroke="#222" stroke-width="0.55"/>
<line x1="406" y1="479.69" x2="416.2" y2="485.78" stroke="#333" stroke-width="0.45" />
<line x1="406" y1="482.37" x2="416.2" y2="487.48" stroke="#333" stroke-width="0.45" />
<line x1="406" y1="485.29" x2="416.2" y2="489.68" stroke="#333" stroke-width="0.45" />
<line x1="406" y1="490.65" x2="416.2" y2="490.65" stroke="#333" stroke-width="0.45" />
<circle cx="406" cy="479.69" r="1.85" fill="#fff" stroke="#222" stroke-width="0.55"/>
<circle cx="416.2" cy="485.78" r="1.85" fill="#fff" stroke="#222" stroke-width="0.55"/>
<circle cx="406" cy="482.37" r="1.85" fill="#fff" stroke="#222" stroke-width="0.55"/>
<circle cx="416.2" cy="487.48" r="1.85" fill="#fff" stroke="#222" stroke-width="0.55"/>
<circle cx="406" cy="485.29" r="1.85" fill="#fff" stroke="#222" stroke-width="0.55"/>
<circle cx="416.2" cy="489.68" r="1.85" fill="#fff" stroke="#222" stroke-width="0.55"/>
<circle cx="406" cy="490.65" r="1.85" fill="#fff" stroke="#222" stroke-width="0.55"/>
<circle cx="416.2" cy="490.65" r="1.85" fill="#fff" stroke="#222" stroke-width="0.55"/>
<text x="386.4" y="537.8" font-size="6.8" text-anchor="middle" fill="#2a2a2a" stroke="#2a2a2a" stroke-width="0.12" >Basal</text>
<text x="411" y="537.8" font-size="6.8" text-anchor="middle" fill="#2a2a2a" stroke="#2a2a2a" stroke-width="0.12" >Max</text>
<text x="399.1" y="443.8" font-size="7.0" text-anchor="middle" fill="#2a2a2a" stroke="#2a2a2a" stroke-width="0.12" >Glycolysis</text>
<text x="398.9" y="456.28" font-size="4.8" fill="#3a3a3a" stroke="#3a3a3a" stroke-width="0.05">p = 0.0119</text>
<line x1="405.7" y1="457.5" x2="416.5" y2="457.5" stroke="#555" stroke-width="0.6" />
<text x="350.2" y="489.8" font-size="7.15" text-anchor="middle" fill="#2a2a2a" stroke="#2a2a2a" stroke-width="0.12" transform="rotate(-90 350.2 489.8)">ATP production (J<tspan font-size="5.0" dy="1.3">ATP</tspan><tspan dy="-1.3">)</tspan></text>
<text x="485.6" y="441.8" font-size="14.2" text-anchor="start" fill="#000" font-weight="bold" >m</text>
<line x1="530.5" y1="454.4" x2="530.5" y2="527.4" stroke="#7a7a7a" stroke-width="0.9" />
<line x1="527.3" y1="527.4" x2="530.2" y2="527.4" stroke="#666" stroke-width="0.65" />
<text x="525.2" y="529.91" font-size="6.6" text-anchor="end" fill="#2a2a2a" stroke="#2a2a2a" stroke-width="0.12" >0</text>
<line x1="527.3" y1="509.15" x2="530.2" y2="509.15" stroke="#666" stroke-width="0.65" />
<text x="526.4" y="511.66" font-size="6.6" text-anchor="end" fill="#2a2a2a" stroke="#2a2a2a" stroke-width="0.12" ><tspan letter-spacing="0.55">1×10</tspan><tspan font-size="4.5" dy="-2.8">8</tspan></text>
<line x1="527.3" y1="490.9" x2="530.2" y2="490.9" stroke="#666" stroke-width="0.65" />
<text x="526.4" y="493.41" font-size="6.6" text-anchor="end" fill="#2a2a2a" stroke="#2a2a2a" stroke-width="0.12" ><tspan letter-spacing="0.55">2×10</tspan><tspan font-size="4.5" dy="-2.8">8</tspan></text>
<line x1="527.3" y1="472.65" x2="530.2" y2="472.65" stroke="#666" stroke-width="0.65" />
<text x="526.4" y="475.16" font-size="6.6" text-anchor="end" fill="#2a2a2a" stroke="#2a2a2a" stroke-width="0.12" ><tspan letter-spacing="0.55">3×10</tspan><tspan font-size="4.5" dy="-2.8">8</tspan></text>
<line x1="527.3" y1="454.4" x2="530.2" y2="454.4" stroke="#666" stroke-width="0.65" />
<text x="526.4" y="456.91" font-size="6.6" text-anchor="end" fill="#2a2a2a" stroke="#2a2a2a" stroke-width="0.12" ><tspan letter-spacing="0.55">4×10</tspan><tspan font-size="4.5" dy="-2.8">8</tspan></text>
<line x1="530.2" y1="527.5" x2="563" y2="527.5" stroke="#7a7a7a" stroke-width="0.9" />
<line x1="539.8" y1="527.4" x2="539.8" y2="529.8" stroke="#555" stroke-width="0.7" />
<line x1="554.3" y1="527.4" x2="554.3" y2="529.8" stroke="#555" stroke-width="0.7" />
<line x1="539.8" y1="507.87" x2="554.3" y2="476.3" stroke="#444" stroke-width="0.45" />
<line x1="539.8" y1="509.7" x2="554.3" y2="478.12" stroke="#444" stroke-width="0.45" />
<line x1="539.8" y1="511.34" x2="554.3" y2="481.77" stroke="#444" stroke-width="0.45" />
<line x1="539.8" y1="513.35" x2="554.3" y2="492.72" stroke="#444" stroke-width="0.45" />
<line x1="539.8" y1="514.81" x2="554.3" y2="494.73" stroke="#444" stroke-width="0.45" />
<circle cx="554.3" cy="476.3" r="1.85" fill="#b9dcbc" stroke="#3d4a40" stroke-width="0.55"/>
<circle cx="554.3" cy="478.12" r="1.85" fill="#b9dcbc" stroke="#3d4a40" stroke-width="0.55"/>
<circle cx="554.3" cy="481.77" r="1.85" fill="#b9dcbc" stroke="#3d4a40" stroke-width="0.55"/>
<circle cx="554.3" cy="492.72" r="1.85" fill="#b9dcbc" stroke="#3d4a40" stroke-width="0.55"/>
<circle cx="554.3" cy="494.73" r="1.85" fill="#b9dcbc" stroke="#3d4a40" stroke-width="0.55"/>
<circle cx="539.8" cy="507.87" r="1.85" fill="#8d9a9b" stroke="#333a3c" stroke-width="0.55"/>
<circle cx="539.8" cy="509.7" r="1.85" fill="#8d9a9b" stroke="#333a3c" stroke-width="0.55"/>
<circle cx="539.8" cy="511.34" r="1.85" fill="#8d9a9b" stroke="#333a3c" stroke-width="0.55"/>
<circle cx="539.8" cy="513.35" r="1.85" fill="#8d9a9b" stroke="#333a3c" stroke-width="0.55"/>
<circle cx="539.8" cy="514.81" r="1.85" fill="#8d9a9b" stroke="#333a3c" stroke-width="0.55"/>
<text x="534.9" y="456.15" font-size="5.0" fill="#3a3a3a" stroke="#3a3a3a" stroke-width="0.05"><tspan font-style="italic">p</tspan> = 0.0055</text>
<line x1="539.8" y1="457.5" x2="554.3" y2="457.5" stroke="#555" stroke-width="0.6" />
<text x="547" y="445.5" font-size="6.9" text-anchor="middle" fill="#2a2a2a" stroke="#2a2a2a" stroke-width="0.12" >Lactate</text>
<text x="503.5" y="490.5" font-size="7.0" text-anchor="middle" fill="#2a2a2a" stroke="#2a2a2a" stroke-width="0.12" transform="rotate(-90 503.5 490.5)" >Peak area</text>
<text x="542.2" y="535.9" font-size="7.2" text-anchor="end" fill="#2a2a2a" stroke="#2a2a2a" stroke-width="0.12" transform="rotate(-45 542.2 535.9)" >Vehicle</text>
<text x="556.7" y="535.9" font-size="7.2" text-anchor="end" fill="#2a2a2a" stroke="#2a2a2a" stroke-width="0.12" transform="rotate(-45 556.7 535.9)" >ML-226</text>
<text x="627.3" y="441.8" font-size="14.2" text-anchor="start" fill="#000" font-weight="bold" >n</text>
<line x1="651.5" y1="454.7" x2="651.5" y2="527.3" stroke="#7a7a7a" stroke-width="0.9" />
<line x1="648.7" y1="527.3" x2="651.5" y2="527.3" stroke="#666" stroke-width="0.65" />
<text x="647.2" y="529.88" font-size="6.8" text-anchor="end" fill="#2a2a2a" stroke="#2a2a2a" stroke-width="0.12" >0</text>
<line x1="648.7" y1="503.1" x2="651.5" y2="503.1" stroke="#666" stroke-width="0.65" />
<text x="647.2" y="505.68" font-size="6.8" text-anchor="end" fill="#2a2a2a" stroke="#2a2a2a" stroke-width="0.12" >2</text>
<line x1="648.7" y1="478.9" x2="651.5" y2="478.9" stroke="#666" stroke-width="0.65" />
<text x="647.2" y="481.48" font-size="6.8" text-anchor="end" fill="#2a2a2a" stroke="#2a2a2a" stroke-width="0.12" >4</text>
<line x1="648.7" y1="454.7" x2="651.5" y2="454.7" stroke="#666" stroke-width="0.65" />
<text x="647.2" y="457.28" font-size="6.8" text-anchor="end" fill="#2a2a2a" stroke="#2a2a2a" stroke-width="0.12" >6</text>
<rect x="656" y="470.67" width="10.8" height="56.63" fill="#949d9e"/>
<rect x="669.5" y="470.19" width="11.6" height="57.11" fill="#bcd8c0"/>
<line x1="651.5" y1="527.5" x2="684.5" y2="527.5" stroke="#7a7a7a" stroke-width="0.9" />
<line x1="661.3" y1="527.3" x2="661.3" y2="529.7" stroke="#555" stroke-width="0.7" />
<line x1="675" y1="527.3" x2="675" y2="529.7" stroke="#555" stroke-width="0.7" />
<line x1="661.3" y1="458.33" x2="675" y2="459.54" stroke="#333" stroke-width="0.45" />
<line x1="661.3" y1="460.75" x2="675" y2="464.38" stroke="#333" stroke-width="0.45" />
<line x1="661.3" y1="463.17" x2="675" y2="461.96" stroke="#333" stroke-width="0.45" />
<line x1="661.3" y1="466.8" x2="675" y2="471.64" stroke="#333" stroke-width="0.45" />
<line x1="661.3" y1="469.22" x2="675" y2="466.8" stroke="#333" stroke-width="0.45" />
<line x1="661.3" y1="472.85" x2="675" y2="469.22" stroke="#333" stroke-width="0.45" />
<line x1="661.3" y1="478.9" x2="675" y2="481.32" stroke="#333" stroke-width="0.45" />
<line x1="661.3" y1="481.32" x2="675" y2="477.69" stroke="#333" stroke-width="0.45" />
<line x1="661.3" y1="483.74" x2="675" y2="483.74" stroke="#333" stroke-width="0.45" />
<line x1="661.3" y1="493.42" x2="675" y2="468.01" stroke="#333" stroke-width="0.45" />
<circle cx="661.3" cy="458.33" r="1.85" fill="#fff" stroke="#222" stroke-width="0.55"/>
<circle cx="661.3" cy="460.75" r="1.85" fill="#fff" stroke="#222" stroke-width="0.55"/>
<circle cx="661.3" cy="463.17" r="1.85" fill="#fff" stroke="#222" stroke-width="0.55"/>
<circle cx="661.3" cy="466.8" r="1.85" fill="#fff" stroke="#222" stroke-width="0.55"/>
<circle cx="661.3" cy="469.22" r="1.85" fill="#fff" stroke="#222" stroke-width="0.55"/>
<circle cx="661.3" cy="472.85" r="1.85" fill="#fff" stroke="#222" stroke-width="0.55"/>
<circle cx="661.3" cy="478.9" r="1.85" fill="#fff" stroke="#222" stroke-width="0.55"/>
<circle cx="661.3" cy="481.32" r="1.85" fill="#fff" stroke="#222" stroke-width="0.55"/>
<circle cx="661.3" cy="483.74" r="1.85" fill="#fff" stroke="#222" stroke-width="0.55"/>
<circle cx="661.3" cy="493.42" r="1.85" fill="#fff" stroke="#222" stroke-width="0.55"/>
<circle cx="675" cy="459.54" r="1.85" fill="#fff" stroke="#222" stroke-width="0.55"/>
<circle cx="675" cy="461.96" r="1.85" fill="#fff" stroke="#222" stroke-width="0.55"/>
<circle cx="675" cy="464.38" r="1.85" fill="#fff" stroke="#222" stroke-width="0.55"/>
<circle cx="675" cy="466.8" r="1.85" fill="#fff" stroke="#222" stroke-width="0.55"/>
<circle cx="675" cy="469.22" r="1.85" fill="#fff" stroke="#222" stroke-width="0.55"/>
<circle cx="675" cy="471.64" r="1.85" fill="#fff" stroke="#222" stroke-width="0.55"/>
<circle cx="675" cy="477.69" r="1.85" fill="#fff" stroke="#222" stroke-width="0.55"/>
<circle cx="675" cy="481.32" r="1.85" fill="#fff" stroke="#222" stroke-width="0.55"/>
<circle cx="675" cy="483.74" r="1.85" fill="#fff" stroke="#222" stroke-width="0.55"/>
<circle cx="675" cy="468.01" r="1.85" fill="#fff" stroke="#222" stroke-width="0.55"/>
<text x="640.6" y="491" font-size="7.0" text-anchor="middle" fill="#2a2a2a" stroke="#2a2a2a" stroke-width="0.12" transform="rotate(-90 640.6 491)" >Lactate (mM)</text>
<text x="663.7" y="535.8" font-size="7.2" text-anchor="end" fill="#2a2a2a" stroke="#2a2a2a" stroke-width="0.12" transform="rotate(-45 663.7 535.8)" >Vehicle</text>
<text x="677.4" y="535.8" font-size="7.2" text-anchor="end" fill="#2a2a2a" stroke="#2a2a2a" stroke-width="0.12" transform="rotate(-45 677.4 535.8)" >ML-226</text>
</svg></body></html>
